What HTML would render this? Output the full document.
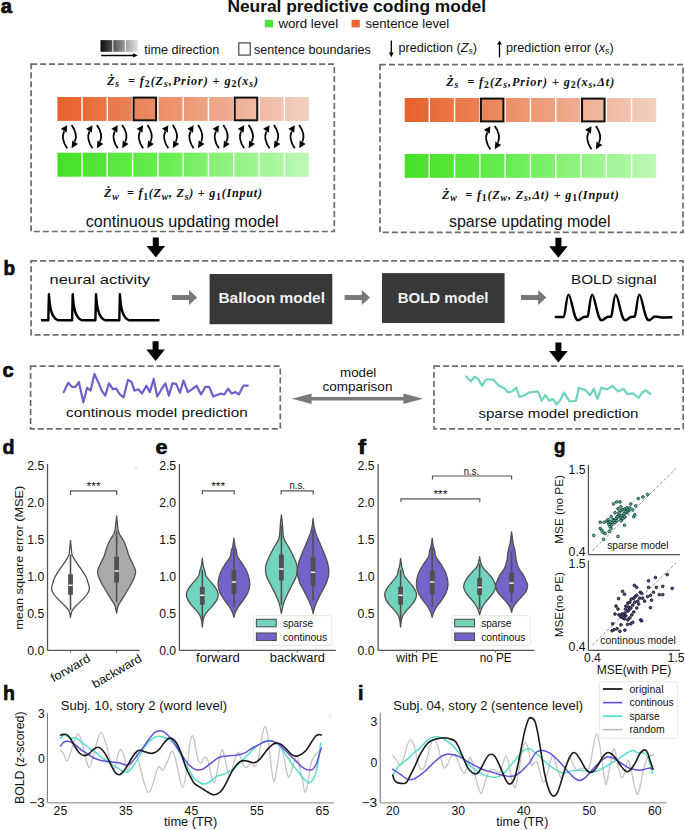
<!DOCTYPE html>
<html><head><meta charset="utf-8"><style>
html,body{margin:0;padding:0;background:#fff;}
svg{display:block;}
text{font-family:"Liberation Sans", sans-serif;}
</style></head><body>
<svg width="685" height="830" viewBox="0 0 685 830">
<rect width="685" height="830" fill="#ffffff"/>
<text x="0.80" y="12.90" font-size="21" fill="#111" font-weight="bold" textLength="11.20" lengthAdjust="spacingAndGlyphs" stroke="#000" stroke-width="0.7">a</text>
<text x="227.40" y="12.40" font-size="16.4" fill="#111" font-weight="bold" textLength="258.60" lengthAdjust="spacingAndGlyphs" >Neural predictive coding model</text>
<rect x="264.80" y="19.80" width="8.20" height="7.60" fill="#4fe43a" />
<text x="278.40" y="27.50" font-size="13" fill="#111" textLength="59.80" lengthAdjust="spacingAndGlyphs" >word level</text>
<rect x="351.60" y="19.80" width="8.20" height="7.60" fill="#e8652f" />
<text x="365.40" y="27.50" font-size="13" fill="#111" textLength="83.80" lengthAdjust="spacingAndGlyphs" >sentence level</text>
<defs><linearGradient id="tg" x1="0" x2="1" y1="0" y2="0"><stop offset="0" stop-color="#0a0a0a"/><stop offset="1" stop-color="#e6e6e6"/></linearGradient></defs>
<rect x="100.50" y="40.10" width="37.60" height="11.70" fill="url(#tg)" />
<rect x="112.30" y="39.50" width="1.00" height="13.00" fill="#fff" />
<rect x="124.80" y="39.50" width="1.00" height="13.00" fill="#fff" />
<line x1="101.20" y1="55.40" x2="133.50" y2="55.40" stroke="#000" stroke-width="1.5" />
<polygon points="133.00,53.20 137.80,55.40 133.00,57.60" fill="#000"/>
<text x="144.20" y="53.60" font-size="13" fill="#111" textLength="75.00" lengthAdjust="spacingAndGlyphs" >time direction</text>
<rect x="238.80" y="42.90" width="11.40" height="12.20" fill="#fff" stroke="#333" stroke-width="1.1" />
<text x="254.00" y="53.60" font-size="13" fill="#111" textLength="116.70" lengthAdjust="spacingAndGlyphs" >sentence boundaries</text>
<line x1="391.30" y1="40.40" x2="391.30" y2="53.50" stroke="#000" stroke-width="1.3" />
<polygon points="388.90,52.60 393.70,52.60 391.30,57.20" fill="#000"/>
<text x="398.50" y="52.00" font-size="13" fill="#111" textLength="78.50" lengthAdjust="spacingAndGlyphs" >prediction (<tspan font-style="italic">Z</tspan><tspan font-size="9" font-style="italic" dy="2">s</tspan><tspan dy="-2">)</tspan></text>
<line x1="499.50" y1="44.00" x2="499.50" y2="57.30" stroke="#000" stroke-width="1.3" />
<polygon points="497.10,44.60 501.90,44.60 499.50,40.50" fill="#000"/>
<text x="506.00" y="52.00" font-size="13" fill="#111" textLength="107.70" lengthAdjust="spacingAndGlyphs" >prediction error (<tspan font-style="italic">x</tspan><tspan font-size="9" font-style="italic" dy="2">s</tspan><tspan dy="-2">)</tspan></text>
<rect x="31.10" y="64.20" width="303.20" height="167.30" fill="none" stroke="#6f6b6b" stroke-width="1.7" stroke-dasharray="6 3"/>
<rect x="380.00" y="64.60" width="303.00" height="167.80" fill="none" stroke="#6f6b6b" stroke-width="1.7" stroke-dasharray="6 3"/>
<defs><linearGradient id="o1" x1="0" x2="1" y1="0" y2="0"><stop offset="0" stop-color="#e8602a"/><stop offset="1" stop-color="#f2d0c0"/></linearGradient></defs>
<rect x="57.40" y="97.00" width="251.50" height="23.90" fill="url(#o1)" />
<rect x="81.29" y="96.50" width="1.40" height="24.90" fill="#fff" />
<rect x="106.58" y="96.50" width="1.40" height="24.90" fill="#fff" />
<rect x="131.87" y="96.50" width="1.40" height="24.90" fill="#fff" />
<rect x="157.16" y="96.50" width="1.40" height="24.90" fill="#fff" />
<rect x="182.45" y="96.50" width="1.40" height="24.90" fill="#fff" />
<rect x="207.74" y="96.50" width="1.40" height="24.90" fill="#fff" />
<rect x="233.03" y="96.50" width="1.40" height="24.90" fill="#fff" />
<rect x="258.32" y="96.50" width="1.40" height="24.90" fill="#fff" />
<rect x="283.61" y="96.50" width="1.40" height="24.90" fill="#fff" />
<rect x="133.57" y="97.60" width="22.49" height="22.70" fill="none" stroke="#111" stroke-width="2" />
<rect x="234.73" y="97.60" width="22.49" height="22.70" fill="none" stroke="#111" stroke-width="2" />
<defs><linearGradient id="g1" x1="0" x2="1" y1="0" y2="0"><stop offset="0" stop-color="#44e126"/><stop offset="0.45" stop-color="#6bee55"/><stop offset="1" stop-color="#bff8b8"/></linearGradient></defs>
<rect x="57.40" y="152.70" width="251.50" height="24.00" fill="url(#g1)" />
<rect x="81.29" y="152.20" width="1.40" height="25.00" fill="#fff" />
<rect x="106.58" y="152.20" width="1.40" height="25.00" fill="#fff" />
<rect x="131.87" y="152.20" width="1.40" height="25.00" fill="#fff" />
<rect x="157.16" y="152.20" width="1.40" height="25.00" fill="#fff" />
<rect x="182.45" y="152.20" width="1.40" height="25.00" fill="#fff" />
<rect x="207.74" y="152.20" width="1.40" height="25.00" fill="#fff" />
<rect x="233.03" y="152.20" width="1.40" height="25.00" fill="#fff" />
<rect x="258.32" y="152.20" width="1.40" height="25.00" fill="#fff" />
<rect x="283.61" y="152.20" width="1.40" height="25.00" fill="#fff" />
<defs><linearGradient id="o2" x1="0" x2="1" y1="0" y2="0"><stop offset="0" stop-color="#e8602a"/><stop offset="1" stop-color="#f2d0c0"/></linearGradient></defs>
<rect x="404.70" y="98.00" width="251.50" height="24.00" fill="url(#o2)" />
<rect x="428.59" y="97.50" width="1.40" height="25.00" fill="#fff" />
<rect x="453.88" y="97.50" width="1.40" height="25.00" fill="#fff" />
<rect x="479.17" y="97.50" width="1.40" height="25.00" fill="#fff" />
<rect x="504.46" y="97.50" width="1.40" height="25.00" fill="#fff" />
<rect x="529.75" y="97.50" width="1.40" height="25.00" fill="#fff" />
<rect x="555.04" y="97.50" width="1.40" height="25.00" fill="#fff" />
<rect x="580.33" y="97.50" width="1.40" height="25.00" fill="#fff" />
<rect x="605.62" y="97.50" width="1.40" height="25.00" fill="#fff" />
<rect x="630.91" y="97.50" width="1.40" height="25.00" fill="#fff" />
<rect x="480.87" y="98.60" width="22.49" height="22.80" fill="none" stroke="#111" stroke-width="2" />
<rect x="582.03" y="98.60" width="22.49" height="22.80" fill="none" stroke="#111" stroke-width="2" />
<defs><linearGradient id="g2" x1="0" x2="1" y1="0" y2="0"><stop offset="0" stop-color="#44e126"/><stop offset="0.45" stop-color="#6bee55"/><stop offset="1" stop-color="#bff8b8"/></linearGradient></defs>
<rect x="404.70" y="154.00" width="251.50" height="23.80" fill="url(#g2)" />
<rect x="428.59" y="153.50" width="1.40" height="24.80" fill="#fff" />
<rect x="453.88" y="153.50" width="1.40" height="24.80" fill="#fff" />
<rect x="479.17" y="153.50" width="1.40" height="24.80" fill="#fff" />
<rect x="504.46" y="153.50" width="1.40" height="24.80" fill="#fff" />
<rect x="529.75" y="153.50" width="1.40" height="24.80" fill="#fff" />
<rect x="555.04" y="153.50" width="1.40" height="24.80" fill="#fff" />
<rect x="580.33" y="153.50" width="1.40" height="24.80" fill="#fff" />
<rect x="605.62" y="153.50" width="1.40" height="24.80" fill="#fff" />
<rect x="630.91" y="153.50" width="1.40" height="24.80" fill="#fff" />
<path d="M67.20,148.30 Q60.60,138.90 64.10,131.50" fill="none" stroke="#000" stroke-width="1.8"/>
<polygon points="67.20,125.30 60.80,128.80 66.60,132.70" fill="#000"/>
<path d="M71.60,124.90 Q78.20,134.30 74.70,141.70" fill="none" stroke="#000" stroke-width="1.8"/>
<polygon points="71.60,148.30 72.20,140.50 78.00,144.00" fill="#000"/>
<path d="M92.49,148.30 Q85.89,138.90 89.39,131.50" fill="none" stroke="#000" stroke-width="1.8"/>
<polygon points="92.49,125.30 86.09,128.80 91.89,132.70" fill="#000"/>
<path d="M96.89,124.90 Q103.49,134.30 99.99,141.70" fill="none" stroke="#000" stroke-width="1.8"/>
<polygon points="96.89,148.30 97.49,140.50 103.29,144.00" fill="#000"/>
<path d="M117.78,148.30 Q111.18,138.90 114.68,131.50" fill="none" stroke="#000" stroke-width="1.8"/>
<polygon points="117.78,125.30 111.38,128.80 117.18,132.70" fill="#000"/>
<path d="M122.18,124.90 Q128.78,134.30 125.28,141.70" fill="none" stroke="#000" stroke-width="1.8"/>
<polygon points="122.18,148.30 122.78,140.50 128.58,144.00" fill="#000"/>
<path d="M143.07,148.30 Q136.47,138.90 139.97,131.50" fill="none" stroke="#000" stroke-width="1.8"/>
<polygon points="143.07,125.30 136.67,128.80 142.47,132.70" fill="#000"/>
<path d="M147.47,124.90 Q154.07,134.30 150.57,141.70" fill="none" stroke="#000" stroke-width="1.8"/>
<polygon points="147.47,148.30 148.07,140.50 153.87,144.00" fill="#000"/>
<path d="M168.36,148.30 Q161.76,138.90 165.26,131.50" fill="none" stroke="#000" stroke-width="1.8"/>
<polygon points="168.36,125.30 161.96,128.80 167.76,132.70" fill="#000"/>
<path d="M172.76,124.90 Q179.36,134.30 175.86,141.70" fill="none" stroke="#000" stroke-width="1.8"/>
<polygon points="172.76,148.30 173.36,140.50 179.16,144.00" fill="#000"/>
<path d="M193.65,148.30 Q187.05,138.90 190.55,131.50" fill="none" stroke="#000" stroke-width="1.8"/>
<polygon points="193.65,125.30 187.25,128.80 193.05,132.70" fill="#000"/>
<path d="M198.05,124.90 Q204.65,134.30 201.15,141.70" fill="none" stroke="#000" stroke-width="1.8"/>
<polygon points="198.05,148.30 198.65,140.50 204.45,144.00" fill="#000"/>
<path d="M218.94,148.30 Q212.34,138.90 215.84,131.50" fill="none" stroke="#000" stroke-width="1.8"/>
<polygon points="218.94,125.30 212.54,128.80 218.34,132.70" fill="#000"/>
<path d="M223.34,124.90 Q229.94,134.30 226.44,141.70" fill="none" stroke="#000" stroke-width="1.8"/>
<polygon points="223.34,148.30 223.94,140.50 229.74,144.00" fill="#000"/>
<path d="M244.23,148.30 Q237.63,138.90 241.13,131.50" fill="none" stroke="#000" stroke-width="1.8"/>
<polygon points="244.23,125.30 237.83,128.80 243.63,132.70" fill="#000"/>
<path d="M248.63,124.90 Q255.23,134.30 251.73,141.70" fill="none" stroke="#000" stroke-width="1.8"/>
<polygon points="248.63,148.30 249.23,140.50 255.03,144.00" fill="#000"/>
<path d="M269.52,148.30 Q262.92,138.90 266.42,131.50" fill="none" stroke="#000" stroke-width="1.8"/>
<polygon points="269.52,125.30 263.12,128.80 268.92,132.70" fill="#000"/>
<path d="M273.92,124.90 Q280.52,134.30 277.02,141.70" fill="none" stroke="#000" stroke-width="1.8"/>
<polygon points="273.92,148.30 274.52,140.50 280.32,144.00" fill="#000"/>
<path d="M294.81,148.30 Q288.21,138.90 291.71,131.50" fill="none" stroke="#000" stroke-width="1.8"/>
<polygon points="294.81,125.30 288.41,128.80 294.21,132.70" fill="#000"/>
<path d="M299.21,124.90 Q305.81,134.30 302.31,141.70" fill="none" stroke="#000" stroke-width="1.8"/>
<polygon points="299.21,148.30 299.81,140.50 305.61,144.00" fill="#000"/>
<path d="M490.37,149.30 Q483.77,139.90 487.27,132.50" fill="none" stroke="#000" stroke-width="1.8"/>
<polygon points="490.37,126.30 483.97,129.80 489.77,133.70" fill="#000"/>
<path d="M494.77,125.90 Q501.37,135.30 497.87,142.70" fill="none" stroke="#000" stroke-width="1.8"/>
<polygon points="494.77,149.30 495.37,141.50 501.17,145.00" fill="#000"/>
<path d="M591.53,149.30 Q584.93,139.90 588.43,132.50" fill="none" stroke="#000" stroke-width="1.8"/>
<polygon points="591.53,126.30 585.13,129.80 590.93,133.70" fill="#000"/>
<path d="M595.93,125.90 Q602.53,135.30 599.03,142.70" fill="none" stroke="#000" stroke-width="1.8"/>
<polygon points="595.93,149.30 596.53,141.50 602.33,145.00" fill="#000"/>
<text x="107.00" y="84.90" font-size="12.2" fill="#111" font-weight="bold" font-style="italic" style='font-family:"Liberation Serif", serif' textLength='151.00' lengthAdjust='spacing'><tspan>Ż</tspan><tspan font-size="9.8" dy="2.4">s</tspan><tspan dy="-2.4">  = </tspan><tspan>f</tspan><tspan font-size="9.8" font-style="normal" dy="2.4">2</tspan><tspan dy="-2.4">(Z</tspan><tspan font-size="9.8" dy="2.4">s</tspan><tspan dy="-2.4">,Prior) + </tspan><tspan>g</tspan><tspan font-size="9.8" font-style="normal" dy="2.4">2</tspan><tspan dy="-2.4">(x</tspan><tspan font-size="9.8" dy="2.4">s</tspan><tspan dy="-2.4">)</tspan></text>
<text x="446.20" y="86.00" font-size="12.2" fill="#111" font-weight="bold" font-style="italic" style='font-family:"Liberation Serif", serif' textLength='168.00' lengthAdjust='spacing'><tspan>Ż</tspan><tspan font-size="9.8" dy="2.4">s</tspan><tspan dy="-2.4">  = </tspan><tspan>f</tspan><tspan font-size="9.8" font-style="normal" dy="2.4">2</tspan><tspan dy="-2.4">(Z</tspan><tspan font-size="9.8" dy="2.4">s</tspan><tspan dy="-2.4">,Prior) + </tspan><tspan>g</tspan><tspan font-size="9.8" font-style="normal" dy="2.4">2</tspan><tspan dy="-2.4">(x</tspan><tspan font-size="9.8" dy="2.4">s</tspan><tspan dy="-2.4">,Δt)</tspan></text>
<text x="104.00" y="197.30" font-size="12.2" fill="#111" font-weight="bold" font-style="italic" style='font-family:"Liberation Serif", serif' textLength='158.00' lengthAdjust='spacing'><tspan>Ż</tspan><tspan font-size="9.8" dy="2.4">w</tspan><tspan dy="-2.4">  = </tspan><tspan>f</tspan><tspan font-size="9.8" font-style="normal" dy="2.4">1</tspan><tspan dy="-2.4">(Z</tspan><tspan font-size="9.8" dy="2.4">w</tspan><tspan dy="-2.4">, Z</tspan><tspan font-size="9.8" dy="2.4">s</tspan><tspan dy="-2.4">) + </tspan><tspan>g</tspan><tspan font-size="9.8" font-style="normal" dy="2.4">1</tspan><tspan dy="-2.4">(Input)</tspan></text>
<text x="442.00" y="198.90" font-size="12.2" fill="#111" font-weight="bold" font-style="italic" style='font-family:"Liberation Serif", serif' textLength='176.70' lengthAdjust='spacing'><tspan>Ż</tspan><tspan font-size="9.8" dy="2.4">w</tspan><tspan dy="-2.4">  = </tspan><tspan>f</tspan><tspan font-size="9.8" font-style="normal" dy="2.4">1</tspan><tspan dy="-2.4">(Z</tspan><tspan font-size="9.8" dy="2.4">w</tspan><tspan dy="-2.4">, Z</tspan><tspan font-size="9.8" dy="2.4">s</tspan><tspan dy="-2.4">,Δt) + </tspan><tspan>g</tspan><tspan font-size="9.8" font-style="normal" dy="2.4">1</tspan><tspan dy="-2.4">(Input)</tspan></text>
<text x="85.80" y="226.60" font-size="16" fill="#111" textLength="192.70" lengthAdjust="spacingAndGlyphs" >continuous updating model</text>
<text x="449.00" y="226.70" font-size="16" fill="#111" textLength="161.50" lengthAdjust="spacingAndGlyphs" >sparse updating model</text>
<polygon points="152.80,237.50 158.80,237.50 158.80,245.90 165.10,245.90 155.80,257.40 146.50,245.90 152.80,245.90" fill="#000"/>
<polygon points="555.40,237.80 561.40,237.80 561.40,246.20 567.70,246.20 558.40,257.70 549.10,246.20 555.40,246.20" fill="#000"/>
<text x="3.60" y="275.30" font-size="21" fill="#111" font-weight="bold" textLength="11.60" lengthAdjust="spacingAndGlyphs" stroke="#000" stroke-width="0.7">b</text>
<rect x="31.10" y="260.90" width="651.80" height="73.90" fill="none" stroke="#6f6b6b" stroke-width="1.7" stroke-dasharray="6 3"/>
<text x="49.60" y="284.20" font-size="13.5" fill="#111" textLength="100.40" lengthAdjust="spacingAndGlyphs" >neural activity</text>
<path d="M41,320.2 L48.3,320.2 L48.9,294.2 C49.7,306 50.9,317.5 57.9,320.2 L72.1,320.2 L72.7,294.2 C73.5,306 74.7,317.5 81.7,320.2 L95.4,320.2 L96.0,294.2 C96.8,306 98.0,317.5 105.0,320.2 L119.3,320.2 L119.9,294.2 C120.7,306 121.9,317.5 128.9,320.2 L159.5,320.2" fill="none" stroke="#000" stroke-width="2.4" stroke-linejoin="round"/>
<polygon points="172.00,294.90 189.00,294.90 189.00,289.90 197.20,297.40 189.00,304.90 189.00,299.90 172.00,299.90" fill="#787878"/>
<rect x="209.60" y="274.00" width="122.70" height="50.20" fill="#383838" />
<text x="218.40" y="303.20" font-size="15" fill="#f2f2f2" font-weight="bold" textLength="106.60" lengthAdjust="spacingAndGlyphs" >Balloon model</text>
<polygon points="344.60,295.10 361.80,295.10 361.80,290.10 370.00,297.60 361.80,305.10 361.80,300.10 344.60,300.10" fill="#787878"/>
<rect x="382.00" y="273.10" width="122.60" height="49.90" fill="#383838" />
<text x="397.70" y="303.20" font-size="15" fill="#f2f2f2" font-weight="bold" textLength="90.80" lengthAdjust="spacingAndGlyphs" >BOLD model</text>
<polygon points="521.00,294.90 538.20,294.90 538.20,289.90 546.40,297.40 538.20,304.90 538.20,299.90 521.00,299.90" fill="#787878"/>
<text x="571.00" y="284.20" font-size="13.5" fill="#111" textLength="85.60" lengthAdjust="spacingAndGlyphs" >BOLD signal</text>
<path d="M554.8,317 L563.6,317 C565.4,317 566.3,294.6 568.6,294.6 C571.2,294.6 573.6,320.3 578.1,320.3 C580.6,320.3 581.6,316.8 585.1,316.8 L587.2,316.8 C589.0,317 589.9,294.6 592.2,294.6 C594.8,294.6 597.2,320.3 601.7,320.3 C604.2,320.3 605.2,316.8 608.7,316.8 L610.8,316.8 C612.6,317 613.5,294.6 615.8,294.6 C618.4,294.6 620.8,320.3 625.3,320.3 C627.8,320.3 628.8,316.8 632.3,316.8 L634.4,316.8 C636.2,317 637.1,294.6 639.4,294.6 C642.0,294.6 644.4,320.3 648.9,320.3 C651.4,320.3 652.4,316.3 655.4,316.5 C658.4,316.6 660.4,317.6 663.9,317.5 L672.4,317.2" fill="none" stroke="#000" stroke-width="2.4" stroke-linejoin="round"/>
<polygon points="152.60,341.20 158.60,341.20 158.60,349.50 164.90,349.50 155.60,361.00 146.30,349.50 152.60,349.50" fill="#000"/>
<polygon points="555.40,342.50 561.40,342.50 561.40,351.10 567.70,351.10 558.40,362.60 549.10,351.10 555.40,351.10" fill="#000"/>
<text x="2.50" y="376.60" font-size="21" fill="#111" font-weight="bold" textLength="11.20" lengthAdjust="spacingAndGlyphs" stroke="#000" stroke-width="0.7">c</text>
<rect x="30.60" y="366.10" width="249.70" height="62.80" fill="none" stroke="#6f6b6b" stroke-width="1.7" stroke-dasharray="6 3"/>
<rect x="434.00" y="366.10" width="249.20" height="62.70" fill="none" stroke="#6f6b6b" stroke-width="1.7" stroke-dasharray="6 3"/>
<polyline points="63.76,392.12 68.14,382.77 71.93,386.86 75.44,386.86 78.94,382.19 83.32,402.34 87.12,387.74 90.62,390.66 94.42,374.01 98.80,383.36 101.72,390.66 105.22,395.62 109.01,383.36 112.81,389.20 116.31,388.61 119.82,394.45 123.61,397.37 127.99,379.85 131.50,381.90 134.42,390.66 138.21,389.20 142.01,393.58 146.39,385.69 149.89,392.12 153.69,378.98 157.19,396.50 161.57,389.20 165.36,383.36 168.87,395.62 172.37,383.36 176.17,383.94 179.96,392.70 183.47,380.44 187.85,392.12 192.23,389.20 196.61,385.69 200.99,394.45 205.36,386.86 209.16,386.86 213.25,396.50 217.04,395.04 220.84,393.58 224.34,394.45 228.14,388.61 231.64,393.58 235.44,392.12 238.94,394.45 243.32,385.69 247.70,385.69" fill="none" stroke="#6e5fcc" stroke-width="2.2" stroke-linejoin="round" stroke-linecap="round" />
<text x="66.10" y="417.00" font-size="13.5" fill="#111" textLength="181.60" lengthAdjust="spacingAndGlyphs" >continous model prediction</text>
<polyline points="466.11,376.54 470.95,381.38 474.68,376.54 478.40,379.14 482.12,385.85 485.85,379.52 493.29,379.52 498.88,385.85 503.72,387.71 508.18,392.55 511.91,391.43 516.37,387.71 519.35,397.01 524.94,395.15 528.66,392.55 537.97,391.43 541.69,400.74 545.41,395.15 549.14,400.74 552.86,398.88 556.58,404.46 560.31,399.99 564.03,392.55 569.61,401.48 575.94,400.74 578.92,387.71 585.62,390.31 590.09,395.15 593.81,388.82 597.54,398.88 601.26,387.71 606.84,389.57 612.43,385.85 618.01,391.43 623.60,388.82 627.32,394.04 632.90,393.29 638.49,397.76 642.21,392.55 645.93,390.31 650.40,394.04" fill="none" stroke="#6fd3c1" stroke-width="2.2" stroke-linejoin="round" stroke-linecap="round" />
<text x="478.40" y="418.20" font-size="13.5" fill="#111" textLength="160.10" lengthAdjust="spacingAndGlyphs" >sparse model prediction</text>
<text x="358.20" y="377.20" font-size="13.5" fill="#111" text-anchor="middle" textLength="36.30" lengthAdjust="spacingAndGlyphs" >model</text>
<text x="357.50" y="391.20" font-size="13.5" fill="#111" text-anchor="middle" textLength="69.80" lengthAdjust="spacingAndGlyphs" >comparison</text>
<polygon points="292.00,398.80 311.60,393.50 311.60,397.00 403.40,397.00 403.40,393.50 423.00,398.80 403.40,404.10 403.40,400.60 311.60,400.60 311.60,404.10" fill="#7a7a7a"/>
<text x="2.40" y="454.20" font-size="20" fill="#111" font-weight="bold" textLength="12.00" lengthAdjust="spacingAndGlyphs" stroke="#000" stroke-width="0.6">d</text>
<line x1="47.50" y1="464.00" x2="47.50" y2="650.40" stroke="#555" stroke-width="1.3" />
<line x1="47.50" y1="650.40" x2="139.80" y2="650.40" stroke="#555" stroke-width="1.3" />
<text x="44.30" y="469.80" font-size="12.3" fill="#111" text-anchor="end" textLength="17.02" lengthAdjust="spacingAndGlyphs" >2.5</text>
<text x="44.30" y="506.78" font-size="12.3" fill="#111" text-anchor="end" textLength="17.02" lengthAdjust="spacingAndGlyphs" >2.0</text>
<text x="44.30" y="543.76" font-size="12.3" fill="#111" text-anchor="end" textLength="17.02" lengthAdjust="spacingAndGlyphs" >1.5</text>
<text x="44.30" y="580.74" font-size="12.3" fill="#111" text-anchor="end" textLength="17.02" lengthAdjust="spacingAndGlyphs" >1.0</text>
<text x="44.30" y="617.72" font-size="12.3" fill="#111" text-anchor="end" textLength="17.02" lengthAdjust="spacingAndGlyphs" >0.5</text>
<text x="44.30" y="654.70" font-size="12.3" fill="#111" text-anchor="end" textLength="17.02" lengthAdjust="spacingAndGlyphs" >0.0</text>
<text x="23.00" y="629.70" font-size="11.7" fill="#111" textLength="143.90" lengthAdjust="spacingAndGlyphs" transform="rotate(-90 23.00 629.70)" >mean square error (MSE)</text>
<path d="M70.5,495 L70.5,490.9 L116.7,490.9 L116.7,495" fill="none" stroke="#555" stroke-width="1.2"/>
<text x="93.60" y="489.80" font-size="10.5" fill="#111" text-anchor="middle" textLength="14.00" lengthAdjust="spacingAndGlyphs" >***</text>
<circle cx="135.8" cy="468.3" r="1.3" fill="none" stroke="#ddd" stroke-width="0.8"/>
<path d="M70.50,540.30 C70.63,541.72 71.05,546.42 71.30,548.80 C71.55,551.18 71.65,553.13 72.00,554.60 C72.35,556.07 72.55,556.13 73.40,557.60 C74.25,559.07 75.63,561.22 77.10,563.40 C78.57,565.58 80.63,568.27 82.20,570.70 C83.77,573.13 85.47,575.82 86.50,578.00 C87.53,580.18 87.92,581.98 88.40,583.80 C88.88,585.62 89.58,587.20 89.40,588.90 C89.22,590.60 88.50,592.17 87.30,594.00 C86.10,595.83 84.03,597.95 82.20,599.90 C80.37,601.85 77.93,604.00 76.30,605.70 C74.67,607.40 73.27,608.75 72.40,610.10 C71.53,611.45 71.42,612.58 71.10,613.80 C70.78,615.02 70.60,616.80 70.50,617.40 L70.50,617.40 C70.40,616.80 70.22,615.02 69.90,613.80 C69.58,612.58 69.47,611.45 68.60,610.10 C67.73,608.75 66.33,607.40 64.70,605.70 C63.07,604.00 60.63,601.85 58.80,599.90 C56.97,597.95 54.90,595.83 53.70,594.00 C52.50,592.17 51.78,590.60 51.60,588.90 C51.42,587.20 52.12,585.62 52.60,583.80 C53.08,581.98 53.47,580.18 54.50,578.00 C55.53,575.82 57.23,573.13 58.80,570.70 C60.37,568.27 62.43,565.58 63.90,563.40 C65.37,561.22 66.75,559.07 67.60,557.60 C68.45,556.13 68.65,556.07 69.00,554.60 C69.35,553.13 69.45,551.18 69.70,548.80 C69.95,546.42 70.37,541.72 70.50,540.30 Z" fill="#ffffff" stroke="#505050" stroke-width="1.3" stroke-linejoin="round"/>
<line x1="70.50" y1="554.60" x2="70.50" y2="610.10" stroke="#505050" stroke-width="1.6" />
<rect x="68.10" y="574.30" width="4.80" height="20.50" fill="#505050" />
<rect x="68.30" y="584.55" width="4.40" height="1.50" fill="#f4f4f4" />
<path d="M116.60,516.00 C116.73,517.33 117.15,521.70 117.40,524.00 C117.65,526.30 117.73,528.10 118.10,529.80 C118.47,531.50 118.63,532.25 119.60,534.20 C120.57,536.15 122.70,539.07 123.90,541.50 C125.10,543.93 125.95,546.37 126.80,548.80 C127.65,551.23 128.03,553.67 129.00,556.10 C129.97,558.53 131.50,560.85 132.60,563.40 C133.70,565.95 135.35,568.97 135.60,571.40 C135.85,573.83 134.95,575.68 134.10,578.00 C133.25,580.32 131.83,582.87 130.50,585.30 C129.17,587.73 127.57,590.17 126.10,592.60 C124.63,595.03 123.02,597.72 121.70,599.90 C120.38,602.08 119.05,603.52 118.20,605.70 C117.35,607.88 116.87,611.78 116.60,613.00 L116.60,613.00 C116.33,611.78 115.85,607.88 115.00,605.70 C114.15,603.52 112.82,602.08 111.50,599.90 C110.18,597.72 108.57,595.03 107.10,592.60 C105.63,590.17 104.03,587.73 102.70,585.30 C101.37,582.87 99.95,580.32 99.10,578.00 C98.25,575.68 97.35,573.83 97.60,571.40 C97.85,568.97 99.50,565.95 100.60,563.40 C101.70,560.85 103.23,558.53 104.20,556.10 C105.17,553.67 105.55,551.23 106.40,548.80 C107.25,546.37 108.10,543.93 109.30,541.50 C110.50,539.07 112.63,536.15 113.60,534.20 C114.57,532.25 114.73,531.50 115.10,529.80 C115.47,528.10 115.55,526.30 115.80,524.00 C116.05,521.70 116.47,517.33 116.60,516.00 Z" fill="#a9a9a9" stroke="#505050" stroke-width="1.3" stroke-linejoin="round"/>
<line x1="116.60" y1="531.30" x2="116.60" y2="602.10" stroke="#505050" stroke-width="1.6" />
<rect x="114.20" y="556.80" width="4.80" height="25.60" fill="#505050" />
<rect x="114.40" y="570.25" width="4.40" height="1.50" fill="#f4f4f4" />
<line x1="70.60" y1="650.40" x2="70.60" y2="652.50" stroke="#555" stroke-width="1" />
<line x1="116.60" y1="650.40" x2="116.60" y2="652.50" stroke="#555" stroke-width="1" />
<text x="72.40" y="671.60" font-size="12" fill="#111" text-anchor="middle" textLength="43.71" lengthAdjust="spacingAndGlyphs" transform="rotate(-30 72.40 671.60)" >forward</text>
<text x="118.80" y="674.60" font-size="12" fill="#111" text-anchor="middle" textLength="55.13" lengthAdjust="spacingAndGlyphs" transform="rotate(-30 118.80 674.60)" >backward</text>
<text x="155.60" y="454.20" font-size="20" fill="#111" font-weight="bold" textLength="12.00" lengthAdjust="spacingAndGlyphs" stroke="#000" stroke-width="0.6">e</text>
<line x1="179.40" y1="464.00" x2="179.40" y2="650.40" stroke="#555" stroke-width="1.3" />
<line x1="179.40" y1="650.40" x2="335.80" y2="650.40" stroke="#555" stroke-width="1.3" />
<text x="176.20" y="469.80" font-size="12.3" fill="#111" text-anchor="end" textLength="17.02" lengthAdjust="spacingAndGlyphs" >2.5</text>
<text x="176.20" y="506.78" font-size="12.3" fill="#111" text-anchor="end" textLength="17.02" lengthAdjust="spacingAndGlyphs" >2.0</text>
<text x="176.20" y="543.76" font-size="12.3" fill="#111" text-anchor="end" textLength="17.02" lengthAdjust="spacingAndGlyphs" >1.5</text>
<text x="176.20" y="580.74" font-size="12.3" fill="#111" text-anchor="end" textLength="17.02" lengthAdjust="spacingAndGlyphs" >1.0</text>
<text x="176.20" y="617.72" font-size="12.3" fill="#111" text-anchor="end" textLength="17.02" lengthAdjust="spacingAndGlyphs" >0.5</text>
<text x="176.20" y="654.70" font-size="12.3" fill="#111" text-anchor="end" textLength="17.02" lengthAdjust="spacingAndGlyphs" >0.0</text>
<path d="M202.4,494.6 L202.4,490.9 L234.2,490.9 L234.2,494.6" fill="none" stroke="#555" stroke-width="1.2"/>
<text x="218.20" y="489.80" font-size="10.5" fill="#111" text-anchor="middle" textLength="14.00" lengthAdjust="spacingAndGlyphs" >***</text>
<path d="M281.2,494.6 L281.2,490.9 L313.2,490.9 L313.2,494.6" fill="none" stroke="#555" stroke-width="1.2"/>
<text x="297.20" y="488.80" font-size="10.5" fill="#111" text-anchor="middle" textLength="15.50" lengthAdjust="spacingAndGlyphs" >n.s.</text>
<path d="M202.30,558.30 C202.47,559.60 202.88,563.98 203.30,566.10 C203.72,568.22 204.37,569.38 204.80,571.00 C205.23,572.62 204.92,574.00 205.90,575.80 C206.88,577.60 209.08,579.80 210.70,581.80 C212.32,583.80 214.35,585.78 215.60,587.80 C216.85,589.82 218.00,591.88 218.20,593.90 C218.40,595.92 217.75,597.90 216.80,599.90 C215.85,601.90 214.12,603.90 212.50,605.90 C210.88,607.90 208.50,610.10 207.10,611.90 C205.70,613.70 204.80,615.08 204.10,616.70 C203.40,618.32 203.20,619.88 202.90,621.60 C202.60,623.32 202.40,626.10 202.30,627.00 L202.30,627.00 C202.20,626.10 202.00,623.32 201.70,621.60 C201.40,619.88 201.20,618.32 200.50,616.70 C199.80,615.08 198.90,613.70 197.50,611.90 C196.10,610.10 193.72,607.90 192.10,605.90 C190.48,603.90 188.75,601.90 187.80,599.90 C186.85,597.90 186.20,595.92 186.40,593.90 C186.60,591.88 187.75,589.82 189.00,587.80 C190.25,585.78 192.28,583.80 193.90,581.80 C195.52,579.80 197.72,577.60 198.70,575.80 C199.68,574.00 199.37,572.62 199.80,571.00 C200.23,569.38 200.88,568.22 201.30,566.10 C201.72,563.98 202.13,559.60 202.30,558.30 Z" fill="#72d4bf" stroke="#505050" stroke-width="1.3" stroke-linejoin="round"/>
<line x1="202.30" y1="569.80" x2="202.30" y2="620.40" stroke="#505050" stroke-width="1.6" />
<rect x="199.90" y="586.90" width="4.80" height="17.80" fill="#505050" />
<rect x="200.10" y="594.55" width="4.40" height="1.50" fill="#f4f4f4" />
<path d="M233.90,538.20 C234.07,539.45 234.48,543.65 234.90,545.70 C235.32,547.75 235.97,548.70 236.40,550.50 C236.83,552.30 236.52,554.30 237.50,556.50 C238.48,558.70 240.78,561.28 242.30,563.70 C243.82,566.12 245.48,568.58 246.60,571.00 C247.72,573.42 248.48,575.80 249.00,578.20 C249.52,580.60 249.90,582.98 249.70,585.40 C249.50,587.82 248.83,590.28 247.80,592.70 C246.77,595.12 245.12,597.50 243.50,599.90 C241.88,602.30 239.50,604.90 238.10,607.10 C236.70,609.30 235.80,611.40 235.10,613.10 C234.40,614.80 234.10,616.60 233.90,617.30 L233.90,617.30 C233.70,616.60 233.40,614.80 232.70,613.10 C232.00,611.40 231.10,609.30 229.70,607.10 C228.30,604.90 225.92,602.30 224.30,599.90 C222.68,597.50 221.03,595.12 220.00,592.70 C218.97,590.28 218.30,587.82 218.10,585.40 C217.90,582.98 218.28,580.60 218.80,578.20 C219.32,575.80 220.08,573.42 221.20,571.00 C222.32,568.58 223.98,566.12 225.50,563.70 C227.02,561.28 229.32,558.70 230.30,556.50 C231.28,554.30 230.97,552.30 231.40,550.50 C231.83,548.70 232.48,547.75 232.90,545.70 C233.32,543.65 233.73,539.45 233.90,538.20 Z" fill="#7463c8" stroke="#505050" stroke-width="1.3" stroke-linejoin="round"/>
<line x1="233.90" y1="548.10" x2="233.90" y2="607.10" stroke="#505050" stroke-width="1.6" />
<rect x="231.50" y="570.00" width="4.80" height="23.90" fill="#505050" />
<rect x="231.70" y="581.25" width="4.40" height="1.50" fill="#f4f4f4" />
<path d="M281.40,514.80 C281.57,516.30 282.12,520.62 282.40,523.80 C282.68,526.98 282.78,531.25 283.10,533.90 C283.42,536.55 283.38,537.52 284.30,539.70 C285.22,541.88 287.15,544.35 288.60,547.00 C290.05,549.65 291.67,552.72 293.00,555.60 C294.33,558.48 295.88,561.88 296.60,564.30 C297.32,566.72 297.42,567.93 297.30,570.10 C297.18,572.27 296.87,574.65 295.90,577.30 C294.93,579.95 292.95,583.10 291.50,586.00 C290.05,588.90 288.52,591.80 287.20,594.70 C285.88,597.60 284.57,600.27 283.60,603.40 C282.63,606.53 281.77,611.82 281.40,613.50 L281.40,613.50 C281.03,611.82 280.17,606.53 279.20,603.40 C278.23,600.27 276.92,597.60 275.60,594.70 C274.28,591.80 272.75,588.90 271.30,586.00 C269.85,583.10 267.87,579.95 266.90,577.30 C265.93,574.65 265.62,572.27 265.50,570.10 C265.38,567.93 265.48,566.72 266.20,564.30 C266.92,561.88 268.47,558.48 269.80,555.60 C271.13,552.72 272.75,549.65 274.20,547.00 C275.65,544.35 277.58,541.88 278.50,539.70 C279.42,537.52 279.38,536.55 279.70,533.90 C280.02,531.25 280.12,526.98 280.40,523.80 C280.68,520.62 281.23,516.30 281.40,514.80 Z" fill="#72d4bf" stroke="#505050" stroke-width="1.3" stroke-linejoin="round"/>
<line x1="281.40" y1="525.30" x2="281.40" y2="604.80" stroke="#505050" stroke-width="1.6" />
<rect x="279.00" y="554.50" width="4.80" height="26.00" fill="#505050" />
<rect x="279.20" y="568.25" width="4.40" height="1.50" fill="#f4f4f4" />
<path d="M313.10,518.30 C313.27,519.70 313.62,524.10 314.10,526.70 C314.58,529.30 315.08,531.25 316.00,533.90 C316.92,536.55 318.28,539.47 319.60,542.60 C320.92,545.73 322.57,549.32 323.90,552.70 C325.23,556.08 326.77,559.63 327.60,562.90 C328.43,566.17 329.03,569.17 328.90,572.30 C328.77,575.43 327.98,578.45 326.80,581.70 C325.62,584.95 323.37,588.67 321.80,591.80 C320.23,594.93 318.62,597.85 317.40,600.50 C316.18,603.15 315.22,605.53 314.50,607.70 C313.78,609.87 313.33,612.53 313.10,613.50 L313.10,613.50 C312.87,612.53 312.42,609.87 311.70,607.70 C310.98,605.53 310.02,603.15 308.80,600.50 C307.58,597.85 305.97,594.93 304.40,591.80 C302.83,588.67 300.58,584.95 299.40,581.70 C298.22,578.45 297.43,575.43 297.30,572.30 C297.17,569.17 297.77,566.17 298.60,562.90 C299.43,559.63 300.97,556.08 302.30,552.70 C303.63,549.32 305.28,545.73 306.60,542.60 C307.92,539.47 309.28,536.55 310.20,533.90 C311.12,531.25 311.62,529.30 312.10,526.70 C312.58,524.10 312.93,519.70 313.10,518.30 Z" fill="#7463c8" stroke="#505050" stroke-width="1.3" stroke-linejoin="round"/>
<line x1="313.10" y1="530.30" x2="313.10" y2="600.50" stroke="#505050" stroke-width="1.6" />
<rect x="310.70" y="557.40" width="4.80" height="28.30" fill="#505050" />
<rect x="310.90" y="571.55" width="4.40" height="1.50" fill="#f4f4f4" />
<line x1="218.10" y1="650.40" x2="218.10" y2="652.50" stroke="#555" stroke-width="1" />
<line x1="297.20" y1="650.40" x2="297.20" y2="652.50" stroke="#555" stroke-width="1" />
<text x="196.00" y="662.20" font-size="12" fill="#111" textLength="43.71" lengthAdjust="spacingAndGlyphs" >forward</text>
<text x="269.80" y="662.20" font-size="12" fill="#111" textLength="55.13" lengthAdjust="spacingAndGlyphs" >backward</text>
<rect x="253.60" y="615.60" width="78.2" height="29.8" rx="2" fill="#fff" fill-opacity="0.8" stroke="#e0e0e0" stroke-width="0.8"/>
<rect x="256.40" y="619.30" width="19.80" height="7.50" fill="#72d4bf" stroke="#505050" stroke-width="1.1" />
<rect x="256.40" y="633.00" width="19.80" height="7.50" fill="#7463c8" stroke="#505050" stroke-width="1.1" />
<text x="282.90" y="627.00" font-size="10" fill="#111" textLength="30.18" lengthAdjust="spacingAndGlyphs" >sparse</text>
<text x="282.90" y="640.50" font-size="10" fill="#111" textLength="44.28" lengthAdjust="spacingAndGlyphs" >continous</text>
<text x="357.90" y="454.20" font-size="20" fill="#111" font-weight="bold" textLength="8.00" lengthAdjust="spacingAndGlyphs" stroke="#000" stroke-width="0.6">f</text>
<line x1="378.10" y1="464.00" x2="378.10" y2="650.40" stroke="#555" stroke-width="1.3" />
<line x1="378.10" y1="650.40" x2="534.50" y2="650.40" stroke="#555" stroke-width="1.3" />
<text x="374.60" y="469.80" font-size="12.3" fill="#111" text-anchor="end" textLength="17.02" lengthAdjust="spacingAndGlyphs" >2.5</text>
<text x="374.60" y="506.78" font-size="12.3" fill="#111" text-anchor="end" textLength="17.02" lengthAdjust="spacingAndGlyphs" >2.0</text>
<text x="374.60" y="543.76" font-size="12.3" fill="#111" text-anchor="end" textLength="17.02" lengthAdjust="spacingAndGlyphs" >1.5</text>
<text x="374.60" y="580.74" font-size="12.3" fill="#111" text-anchor="end" textLength="17.02" lengthAdjust="spacingAndGlyphs" >1.0</text>
<text x="374.60" y="617.72" font-size="12.3" fill="#111" text-anchor="end" textLength="17.02" lengthAdjust="spacingAndGlyphs" >0.5</text>
<text x="374.60" y="654.70" font-size="12.3" fill="#111" text-anchor="end" textLength="17.02" lengthAdjust="spacingAndGlyphs" >0.0</text>
<path d="M432.5,479.4 L432.5,476.0 L511.6,476.0 L511.6,479.4" fill="none" stroke="#555" stroke-width="1.2"/>
<text x="471.40" y="474.80" font-size="10.5" fill="#111" text-anchor="middle" textLength="15.50" lengthAdjust="spacingAndGlyphs" >n.s.</text>
<path d="M401.0,502.0 L401.0,498.8 L479.8,498.8 L479.8,502.0" fill="none" stroke="#555" stroke-width="1.2"/>
<text x="440.40" y="497.70" font-size="10.5" fill="#111" text-anchor="middle" textLength="14.00" lengthAdjust="spacingAndGlyphs" >***</text>
<path d="M400.60,558.30 C400.77,559.60 401.18,563.98 401.60,566.10 C402.02,568.22 402.67,569.38 403.10,571.00 C403.53,572.62 403.22,574.00 404.20,575.80 C405.18,577.60 407.38,579.80 409.00,581.80 C410.62,583.80 412.65,585.78 413.90,587.80 C415.15,589.82 416.30,591.88 416.50,593.90 C416.70,595.92 416.05,597.90 415.10,599.90 C414.15,601.90 412.42,603.90 410.80,605.90 C409.18,607.90 406.80,610.10 405.40,611.90 C404.00,613.70 403.10,615.08 402.40,616.70 C401.70,618.32 401.50,619.88 401.20,621.60 C400.90,623.32 400.70,626.10 400.60,627.00 L400.60,627.00 C400.50,626.10 400.30,623.32 400.00,621.60 C399.70,619.88 399.50,618.32 398.80,616.70 C398.10,615.08 397.20,613.70 395.80,611.90 C394.40,610.10 392.02,607.90 390.40,605.90 C388.78,603.90 387.05,601.90 386.10,599.90 C385.15,597.90 384.50,595.92 384.70,593.90 C384.90,591.88 386.05,589.82 387.30,587.80 C388.55,585.78 390.58,583.80 392.20,581.80 C393.82,579.80 396.02,577.60 397.00,575.80 C397.98,574.00 397.67,572.62 398.10,571.00 C398.53,569.38 399.18,568.22 399.60,566.10 C400.02,563.98 400.43,559.60 400.60,558.30 Z" fill="#72d4bf" stroke="#505050" stroke-width="1.3" stroke-linejoin="round"/>
<line x1="400.60" y1="569.80" x2="400.60" y2="620.40" stroke="#505050" stroke-width="1.6" />
<rect x="398.20" y="586.90" width="4.80" height="17.80" fill="#505050" />
<rect x="398.40" y="594.55" width="4.40" height="1.50" fill="#f4f4f4" />
<path d="M432.20,538.20 C432.37,539.45 432.78,543.65 433.20,545.70 C433.62,547.75 434.27,548.70 434.70,550.50 C435.13,552.30 434.82,554.30 435.80,556.50 C436.78,558.70 439.08,561.28 440.60,563.70 C442.12,566.12 443.78,568.58 444.90,571.00 C446.02,573.42 446.78,575.80 447.30,578.20 C447.82,580.60 448.20,582.98 448.00,585.40 C447.80,587.82 447.13,590.28 446.10,592.70 C445.07,595.12 443.42,597.50 441.80,599.90 C440.18,602.30 437.80,604.90 436.40,607.10 C435.00,609.30 434.10,611.40 433.40,613.10 C432.70,614.80 432.40,616.60 432.20,617.30 L432.20,617.30 C432.00,616.60 431.70,614.80 431.00,613.10 C430.30,611.40 429.40,609.30 428.00,607.10 C426.60,604.90 424.22,602.30 422.60,599.90 C420.98,597.50 419.33,595.12 418.30,592.70 C417.27,590.28 416.60,587.82 416.40,585.40 C416.20,582.98 416.58,580.60 417.10,578.20 C417.62,575.80 418.38,573.42 419.50,571.00 C420.62,568.58 422.28,566.12 423.80,563.70 C425.32,561.28 427.62,558.70 428.60,556.50 C429.58,554.30 429.27,552.30 429.70,550.50 C430.13,548.70 430.78,547.75 431.20,545.70 C431.62,543.65 432.03,539.45 432.20,538.20 Z" fill="#7463c8" stroke="#505050" stroke-width="1.3" stroke-linejoin="round"/>
<line x1="432.20" y1="548.10" x2="432.20" y2="607.10" stroke="#505050" stroke-width="1.6" />
<rect x="429.80" y="570.00" width="4.80" height="23.90" fill="#505050" />
<rect x="430.00" y="581.25" width="4.40" height="1.50" fill="#f4f4f4" />
<path d="M479.60,556.60 C479.77,557.55 480.10,560.53 480.60,562.30 C481.10,564.07 481.37,565.38 482.60,567.20 C483.83,569.02 486.28,571.20 488.00,573.20 C489.72,575.20 491.63,577.00 492.90,579.20 C494.17,581.40 495.50,584.18 495.60,586.40 C495.70,588.62 494.67,590.48 493.50,592.50 C492.33,594.52 490.22,596.50 488.60,598.50 C486.98,600.50 485.10,602.50 483.80,604.50 C482.50,606.50 481.50,608.68 480.80,610.50 C480.10,612.32 479.80,614.58 479.60,615.40 L479.60,615.40 C479.40,614.58 479.10,612.32 478.40,610.50 C477.70,608.68 476.70,606.50 475.40,604.50 C474.10,602.50 472.22,600.50 470.60,598.50 C468.98,596.50 466.87,594.52 465.70,592.50 C464.53,590.48 463.50,588.62 463.60,586.40 C463.70,584.18 465.03,581.40 466.30,579.20 C467.57,577.00 469.48,575.20 471.20,573.20 C472.92,571.20 475.37,569.02 476.60,567.20 C477.83,565.38 478.10,564.07 478.60,562.30 C479.10,560.53 479.43,557.55 479.60,556.60 Z" fill="#72d4bf" stroke="#505050" stroke-width="1.3" stroke-linejoin="round"/>
<line x1="479.60" y1="563.60" x2="479.60" y2="609.30" stroke="#505050" stroke-width="1.6" />
<rect x="477.20" y="578.00" width="4.80" height="16.90" fill="#505050" />
<rect x="477.40" y="586.65" width="4.40" height="1.50" fill="#f4f4f4" />
<path d="M511.60,532.00 C511.85,533.85 512.52,539.85 513.10,543.10 C513.68,546.35 514.55,548.50 515.10,551.50 C515.65,554.50 515.78,558.28 516.40,561.10 C517.02,563.92 517.60,565.98 518.80,568.40 C520.00,570.82 522.35,573.40 523.60,575.60 C524.85,577.80 525.63,580.00 526.30,581.60 C526.97,583.20 527.63,583.58 527.60,585.20 C527.57,586.82 527.17,589.28 526.10,591.30 C525.03,593.32 522.92,595.30 521.20,597.30 C519.48,599.30 517.20,601.50 515.80,603.30 C514.40,605.10 513.50,606.60 512.80,608.10 C512.10,609.60 511.80,611.60 511.60,612.30 L511.60,612.30 C511.40,611.60 511.10,609.60 510.40,608.10 C509.70,606.60 508.80,605.10 507.40,603.30 C506.00,601.50 503.72,599.30 502.00,597.30 C500.28,595.30 498.17,593.32 497.10,591.30 C496.03,589.28 495.63,586.82 495.60,585.20 C495.57,583.58 496.23,583.20 496.90,581.60 C497.57,580.00 498.35,577.80 499.60,575.60 C500.85,573.40 503.20,570.82 504.40,568.40 C505.60,565.98 506.18,563.92 506.80,561.10 C507.42,558.28 507.55,554.50 508.10,551.50 C508.65,548.50 509.52,546.35 510.10,543.10 C510.68,539.85 511.35,533.85 511.60,532.00 Z" fill="#7463c8" stroke="#505050" stroke-width="1.3" stroke-linejoin="round"/>
<line x1="511.60" y1="550.90" x2="511.60" y2="602.10" stroke="#505050" stroke-width="1.6" />
<rect x="509.20" y="572.60" width="4.80" height="19.90" fill="#505050" />
<rect x="509.40" y="582.35" width="4.40" height="1.50" fill="#f4f4f4" />
<line x1="416.60" y1="650.40" x2="416.60" y2="652.50" stroke="#555" stroke-width="1" />
<line x1="495.60" y1="650.40" x2="495.60" y2="652.50" stroke="#555" stroke-width="1" />
<text x="396.00" y="662.30" font-size="12" fill="#111" textLength="41.89" lengthAdjust="spacingAndGlyphs" >with PE</text>
<text x="479.70" y="662.30" font-size="12" fill="#111" textLength="31.90" lengthAdjust="spacingAndGlyphs" >no PE</text>
<rect x="451.90" y="615.60" width="78.2" height="29.8" rx="2" fill="#fff" fill-opacity="0.8" stroke="#e0e0e0" stroke-width="0.8"/>
<rect x="454.70" y="619.30" width="19.80" height="7.50" fill="#72d4bf" stroke="#505050" stroke-width="1.1" />
<rect x="454.70" y="633.00" width="19.80" height="7.50" fill="#7463c8" stroke="#505050" stroke-width="1.1" />
<text x="481.20" y="627.00" font-size="10" fill="#111" textLength="30.18" lengthAdjust="spacingAndGlyphs" >sparse</text>
<text x="481.20" y="640.50" font-size="10" fill="#111" textLength="44.28" lengthAdjust="spacingAndGlyphs" >continous</text>
<text x="554.00" y="452.70" font-size="20" fill="#111" font-weight="bold" textLength="11.40" lengthAdjust="spacingAndGlyphs" stroke="#000" stroke-width="0.6">g</text>
<line x1="588.40" y1="465.00" x2="588.40" y2="554.60" stroke="#555" stroke-width="1.3" />
<line x1="588.40" y1="554.60" x2="680.00" y2="554.60" stroke="#555" stroke-width="1.3" />
<text x="585.60" y="474.00" font-size="12.3" fill="#111" text-anchor="end" textLength="17.02" lengthAdjust="spacingAndGlyphs" >1.5</text>
<text x="585.60" y="556.20" font-size="12.3" fill="#111" text-anchor="end" textLength="17.02" lengthAdjust="spacingAndGlyphs" >0.4</text>
<line x1="592.40" y1="550.70" x2="676.10" y2="468.40" stroke="#777" stroke-width="0.8" stroke-dasharray="3 2"/>
<text x="563.30" y="543.70" font-size="11.8" fill="#111" textLength="68.70" lengthAdjust="spacingAndGlyphs" transform="rotate(-90 563.30 543.70)" >MSE (no PE)</text>
<text x="607.20" y="548.80" font-size="11.2" fill="#111" textLength="61.40" lengthAdjust="spacingAndGlyphs" >sparse model</text>
<line x1="588.40" y1="560.40" x2="588.40" y2="650.40" stroke="#555" stroke-width="1.3" />
<line x1="588.40" y1="650.40" x2="680.00" y2="650.40" stroke="#555" stroke-width="1.3" />
<text x="585.60" y="568.30" font-size="12.3" fill="#111" text-anchor="end" textLength="17.02" lengthAdjust="spacingAndGlyphs" >1.5</text>
<text x="585.60" y="650.50" font-size="12.3" fill="#111" text-anchor="end" textLength="17.02" lengthAdjust="spacingAndGlyphs" >0.4</text>
<line x1="592.40" y1="645.00" x2="676.10" y2="562.70" stroke="#777" stroke-width="0.8" stroke-dasharray="3 2"/>
<text x="563.30" y="637.20" font-size="11.8" fill="#111" textLength="65.07" lengthAdjust="spacingAndGlyphs" transform="rotate(-90 563.30 637.20)" >MSE(no PE)</text>
<text x="600.30" y="643.50" font-size="11.2" fill="#111" textLength="75.40" lengthAdjust="spacingAndGlyphs" >continous model</text>
<circle cx="593.75" cy="535.44" r="1.35" fill="#5cc4b4" stroke="#143430" stroke-width="0.85"/>
<circle cx="600.26" cy="522.23" r="1.35" fill="#5cc4b4" stroke="#143430" stroke-width="0.85"/>
<circle cx="604.20" cy="522.23" r="1.35" fill="#5cc4b4" stroke="#143430" stroke-width="0.85"/>
<circle cx="600.26" cy="528.54" r="1.35" fill="#5cc4b4" stroke="#143430" stroke-width="0.85"/>
<circle cx="601.64" cy="530.12" r="1.35" fill="#5cc4b4" stroke="#143430" stroke-width="0.85"/>
<circle cx="603.21" cy="532.48" r="1.35" fill="#5cc4b4" stroke="#143430" stroke-width="0.85"/>
<circle cx="605.18" cy="533.47" r="1.35" fill="#5cc4b4" stroke="#143430" stroke-width="0.85"/>
<circle cx="603.61" cy="539.38" r="1.35" fill="#5cc4b4" stroke="#143430" stroke-width="0.85"/>
<circle cx="607.15" cy="520.66" r="1.35" fill="#5cc4b4" stroke="#143430" stroke-width="0.85"/>
<circle cx="608.14" cy="522.63" r="1.35" fill="#5cc4b4" stroke="#143430" stroke-width="0.85"/>
<circle cx="609.12" cy="524.60" r="1.35" fill="#5cc4b4" stroke="#143430" stroke-width="0.85"/>
<circle cx="610.11" cy="526.57" r="1.35" fill="#5cc4b4" stroke="#143430" stroke-width="0.85"/>
<circle cx="611.10" cy="528.54" r="1.35" fill="#5cc4b4" stroke="#143430" stroke-width="0.85"/>
<circle cx="613.07" cy="519.67" r="1.35" fill="#5cc4b4" stroke="#143430" stroke-width="0.85"/>
<circle cx="613.46" cy="503.91" r="1.35" fill="#5cc4b4" stroke="#143430" stroke-width="0.85"/>
<circle cx="615.04" cy="512.77" r="1.35" fill="#5cc4b4" stroke="#143430" stroke-width="0.85"/>
<circle cx="616.61" cy="501.94" r="1.35" fill="#5cc4b4" stroke="#143430" stroke-width="0.85"/>
<circle cx="617.99" cy="508.83" r="1.35" fill="#5cc4b4" stroke="#143430" stroke-width="0.85"/>
<circle cx="618.98" cy="514.75" r="1.35" fill="#5cc4b4" stroke="#143430" stroke-width="0.85"/>
<circle cx="619.96" cy="501.94" r="1.35" fill="#5cc4b4" stroke="#143430" stroke-width="0.85"/>
<circle cx="620.95" cy="506.86" r="1.35" fill="#5cc4b4" stroke="#143430" stroke-width="0.85"/>
<circle cx="617.99" cy="536.42" r="1.35" fill="#5cc4b4" stroke="#143430" stroke-width="0.85"/>
<circle cx="624.50" cy="525.19" r="1.35" fill="#5cc4b4" stroke="#143430" stroke-width="0.85"/>
<circle cx="626.86" cy="512.77" r="1.35" fill="#5cc4b4" stroke="#143430" stroke-width="0.85"/>
<circle cx="628.83" cy="510.80" r="1.35" fill="#5cc4b4" stroke="#143430" stroke-width="0.85"/>
<circle cx="629.82" cy="507.85" r="1.35" fill="#5cc4b4" stroke="#143430" stroke-width="0.85"/>
<circle cx="630.80" cy="503.91" r="1.35" fill="#5cc4b4" stroke="#143430" stroke-width="0.85"/>
<circle cx="632.77" cy="509.82" r="1.35" fill="#5cc4b4" stroke="#143430" stroke-width="0.85"/>
<circle cx="633.76" cy="516.72" r="1.35" fill="#5cc4b4" stroke="#143430" stroke-width="0.85"/>
<circle cx="634.75" cy="514.75" r="1.35" fill="#5cc4b4" stroke="#143430" stroke-width="0.85"/>
<circle cx="635.73" cy="505.88" r="1.35" fill="#5cc4b4" stroke="#143430" stroke-width="0.85"/>
<circle cx="638.29" cy="498.58" r="1.35" fill="#5cc4b4" stroke="#143430" stroke-width="0.85"/>
<circle cx="643.02" cy="497.01" r="1.35" fill="#5cc4b4" stroke="#143430" stroke-width="0.85"/>
<circle cx="647.56" cy="494.45" r="1.35" fill="#5cc4b4" stroke="#143430" stroke-width="0.85"/>
<circle cx="609.12" cy="531.50" r="1.35" fill="#5cc4b4" stroke="#143430" stroke-width="0.85"/>
<circle cx="612.08" cy="522.63" r="1.35" fill="#5cc4b4" stroke="#143430" stroke-width="0.85"/>
<circle cx="614.05" cy="520.66" r="1.35" fill="#5cc4b4" stroke="#143430" stroke-width="0.85"/>
<circle cx="616.02" cy="518.69" r="1.35" fill="#5cc4b4" stroke="#143430" stroke-width="0.85"/>
<circle cx="617.01" cy="516.72" r="1.35" fill="#5cc4b4" stroke="#143430" stroke-width="0.85"/>
<circle cx="618.98" cy="512.77" r="1.35" fill="#5cc4b4" stroke="#143430" stroke-width="0.85"/>
<circle cx="620.95" cy="510.80" r="1.35" fill="#5cc4b4" stroke="#143430" stroke-width="0.85"/>
<circle cx="622.92" cy="509.82" r="1.35" fill="#5cc4b4" stroke="#143430" stroke-width="0.85"/>
<circle cx="624.89" cy="508.83" r="1.35" fill="#5cc4b4" stroke="#143430" stroke-width="0.85"/>
<circle cx="626.86" cy="507.85" r="1.35" fill="#5cc4b4" stroke="#143430" stroke-width="0.85"/>
<circle cx="612.08" cy="524.60" r="1.35" fill="#5cc4b4" stroke="#143430" stroke-width="0.85"/>
<circle cx="610.11" cy="521.64" r="1.35" fill="#5cc4b4" stroke="#143430" stroke-width="0.85"/>
<circle cx="608.14" cy="519.67" r="1.35" fill="#5cc4b4" stroke="#143430" stroke-width="0.85"/>
<circle cx="611.10" cy="516.72" r="1.35" fill="#5cc4b4" stroke="#143430" stroke-width="0.85"/>
<circle cx="615.04" cy="522.63" r="1.35" fill="#5cc4b4" stroke="#143430" stroke-width="0.85"/>
<circle cx="617.01" cy="520.66" r="1.35" fill="#5cc4b4" stroke="#143430" stroke-width="0.85"/>
<circle cx="619.96" cy="517.70" r="1.35" fill="#5cc4b4" stroke="#143430" stroke-width="0.85"/>
<circle cx="621.94" cy="515.73" r="1.35" fill="#5cc4b4" stroke="#143430" stroke-width="0.85"/>
<circle cx="623.91" cy="513.76" r="1.35" fill="#5cc4b4" stroke="#143430" stroke-width="0.85"/>
<circle cx="625.88" cy="511.79" r="1.35" fill="#5cc4b4" stroke="#143430" stroke-width="0.85"/>
<circle cx="627.85" cy="509.82" r="1.35" fill="#5cc4b4" stroke="#143430" stroke-width="0.85"/>
<circle cx="620.95" cy="520.66" r="1.35" fill="#5cc4b4" stroke="#143430" stroke-width="0.85"/>
<circle cx="622.92" cy="518.69" r="1.35" fill="#5cc4b4" stroke="#143430" stroke-width="0.85"/>
<circle cx="624.89" cy="516.72" r="1.35" fill="#5cc4b4" stroke="#143430" stroke-width="0.85"/>
<circle cx="612.67" cy="623.83" r="1.35" fill="#5550a8" stroke="#111" stroke-width="0.85"/>
<circle cx="612.08" cy="630.73" r="1.35" fill="#5550a8" stroke="#111" stroke-width="0.85"/>
<circle cx="614.05" cy="629.75" r="1.35" fill="#5550a8" stroke="#111" stroke-width="0.85"/>
<circle cx="617.01" cy="628.76" r="1.35" fill="#5550a8" stroke="#111" stroke-width="0.85"/>
<circle cx="619.96" cy="631.32" r="1.35" fill="#5550a8" stroke="#111" stroke-width="0.85"/>
<circle cx="624.89" cy="630.14" r="1.35" fill="#5550a8" stroke="#111" stroke-width="0.85"/>
<circle cx="620.95" cy="624.82" r="1.35" fill="#5550a8" stroke="#111" stroke-width="0.85"/>
<circle cx="627.45" cy="624.42" r="1.35" fill="#5550a8" stroke="#111" stroke-width="0.85"/>
<circle cx="630.80" cy="623.83" r="1.35" fill="#5550a8" stroke="#111" stroke-width="0.85"/>
<circle cx="632.77" cy="622.26" r="1.35" fill="#5550a8" stroke="#111" stroke-width="0.85"/>
<circle cx="615.04" cy="613.98" r="1.35" fill="#5550a8" stroke="#111" stroke-width="0.85"/>
<circle cx="617.99" cy="609.05" r="1.35" fill="#5550a8" stroke="#111" stroke-width="0.85"/>
<circle cx="616.02" cy="606.10" r="1.35" fill="#5550a8" stroke="#111" stroke-width="0.85"/>
<circle cx="618.58" cy="598.61" r="1.35" fill="#5550a8" stroke="#111" stroke-width="0.85"/>
<circle cx="622.53" cy="591.31" r="1.35" fill="#5550a8" stroke="#111" stroke-width="0.85"/>
<circle cx="624.50" cy="594.27" r="1.35" fill="#5550a8" stroke="#111" stroke-width="0.85"/>
<circle cx="621.94" cy="613.98" r="1.35" fill="#5550a8" stroke="#111" stroke-width="0.85"/>
<circle cx="623.31" cy="614.96" r="1.35" fill="#5550a8" stroke="#111" stroke-width="0.85"/>
<circle cx="624.89" cy="612.99" r="1.35" fill="#5550a8" stroke="#111" stroke-width="0.85"/>
<circle cx="625.88" cy="615.95" r="1.35" fill="#5550a8" stroke="#111" stroke-width="0.85"/>
<circle cx="627.85" cy="611.02" r="1.35" fill="#5550a8" stroke="#111" stroke-width="0.85"/>
<circle cx="628.83" cy="607.08" r="1.35" fill="#5550a8" stroke="#111" stroke-width="0.85"/>
<circle cx="629.82" cy="602.15" r="1.35" fill="#5550a8" stroke="#111" stroke-width="0.85"/>
<circle cx="631.20" cy="599.20" r="1.35" fill="#5550a8" stroke="#111" stroke-width="0.85"/>
<circle cx="633.76" cy="598.21" r="1.35" fill="#5550a8" stroke="#111" stroke-width="0.85"/>
<circle cx="635.14" cy="596.64" r="1.35" fill="#5550a8" stroke="#111" stroke-width="0.85"/>
<circle cx="636.72" cy="595.26" r="1.35" fill="#5550a8" stroke="#111" stroke-width="0.85"/>
<circle cx="634.35" cy="585.40" r="1.35" fill="#5550a8" stroke="#111" stroke-width="0.85"/>
<circle cx="636.72" cy="587.37" r="1.35" fill="#5550a8" stroke="#111" stroke-width="0.85"/>
<circle cx="640.26" cy="592.30" r="1.35" fill="#5550a8" stroke="#111" stroke-width="0.85"/>
<circle cx="641.64" cy="593.29" r="1.35" fill="#5550a8" stroke="#111" stroke-width="0.85"/>
<circle cx="642.63" cy="598.21" r="1.35" fill="#5550a8" stroke="#111" stroke-width="0.85"/>
<circle cx="644.60" cy="601.17" r="1.35" fill="#5550a8" stroke="#111" stroke-width="0.85"/>
<circle cx="647.56" cy="596.64" r="1.35" fill="#5550a8" stroke="#111" stroke-width="0.85"/>
<circle cx="648.54" cy="587.37" r="1.35" fill="#5550a8" stroke="#111" stroke-width="0.85"/>
<circle cx="648.54" cy="580.87" r="1.35" fill="#5550a8" stroke="#111" stroke-width="0.85"/>
<circle cx="650.51" cy="595.26" r="1.35" fill="#5550a8" stroke="#111" stroke-width="0.85"/>
<circle cx="651.50" cy="600.18" r="1.35" fill="#5550a8" stroke="#111" stroke-width="0.85"/>
<circle cx="650.51" cy="607.67" r="1.35" fill="#5550a8" stroke="#111" stroke-width="0.85"/>
<circle cx="653.47" cy="592.30" r="1.35" fill="#5550a8" stroke="#111" stroke-width="0.85"/>
<circle cx="655.44" cy="577.52" r="1.35" fill="#5550a8" stroke="#111" stroke-width="0.85"/>
<circle cx="656.42" cy="587.37" r="1.35" fill="#5550a8" stroke="#111" stroke-width="0.85"/>
<circle cx="659.38" cy="594.66" r="1.35" fill="#5550a8" stroke="#111" stroke-width="0.85"/>
<circle cx="662.73" cy="594.66" r="1.35" fill="#5550a8" stroke="#111" stroke-width="0.85"/>
<circle cx="662.73" cy="586.39" r="1.35" fill="#5550a8" stroke="#111" stroke-width="0.85"/>
<circle cx="667.26" cy="574.56" r="1.35" fill="#5550a8" stroke="#111" stroke-width="0.85"/>
<circle cx="672.19" cy="588.36" r="1.35" fill="#5550a8" stroke="#111" stroke-width="0.85"/>
<circle cx="624.50" cy="618.91" r="1.35" fill="#5550a8" stroke="#111" stroke-width="0.85"/>
<circle cx="627.85" cy="619.89" r="1.35" fill="#5550a8" stroke="#111" stroke-width="0.85"/>
<circle cx="629.82" cy="617.92" r="1.35" fill="#5550a8" stroke="#111" stroke-width="0.85"/>
<circle cx="631.79" cy="614.96" r="1.35" fill="#5550a8" stroke="#111" stroke-width="0.85"/>
<circle cx="633.76" cy="612.01" r="1.35" fill="#5550a8" stroke="#111" stroke-width="0.85"/>
<circle cx="636.72" cy="608.07" r="1.35" fill="#5550a8" stroke="#111" stroke-width="0.85"/>
<circle cx="638.69" cy="604.12" r="1.35" fill="#5550a8" stroke="#111" stroke-width="0.85"/>
<circle cx="640.66" cy="619.89" r="1.35" fill="#5550a8" stroke="#111" stroke-width="0.85"/>
<circle cx="641.64" cy="620.88" r="1.35" fill="#5550a8" stroke="#111" stroke-width="0.85"/>
<circle cx="625.88" cy="606.10" r="1.35" fill="#5550a8" stroke="#111" stroke-width="0.85"/>
<circle cx="628.83" cy="610.04" r="1.35" fill="#5550a8" stroke="#111" stroke-width="0.85"/>
<circle cx="630.80" cy="608.07" r="1.35" fill="#5550a8" stroke="#111" stroke-width="0.85"/>
<circle cx="632.77" cy="605.11" r="1.35" fill="#5550a8" stroke="#111" stroke-width="0.85"/>
<circle cx="634.75" cy="602.15" r="1.35" fill="#5550a8" stroke="#111" stroke-width="0.85"/>
<circle cx="637.70" cy="601.17" r="1.35" fill="#5550a8" stroke="#111" stroke-width="0.85"/>
<circle cx="639.67" cy="598.21" r="1.35" fill="#5550a8" stroke="#111" stroke-width="0.85"/>
<circle cx="618.98" cy="614.96" r="1.35" fill="#5550a8" stroke="#111" stroke-width="0.85"/>
<circle cx="620.95" cy="616.94" r="1.35" fill="#5550a8" stroke="#111" stroke-width="0.85"/>
<circle cx="622.92" cy="617.92" r="1.35" fill="#5550a8" stroke="#111" stroke-width="0.85"/>
<circle cx="625.48" cy="609.05" r="1.35" fill="#5550a8" stroke="#111" stroke-width="0.85"/>
<circle cx="627.85" cy="603.14" r="1.35" fill="#5550a8" stroke="#111" stroke-width="0.85"/>
<text x="592.40" y="661.50" font-size="12.3" fill="#111" text-anchor="middle" textLength="17.00" lengthAdjust="spacingAndGlyphs" >0.4</text>
<text x="676.10" y="661.50" font-size="12.3" fill="#111" text-anchor="middle" textLength="17.00" lengthAdjust="spacingAndGlyphs" >1.5</text>
<text x="596.70" y="674.10" font-size="12" fill="#111" textLength="74.50" lengthAdjust="spacingAndGlyphs" >MSE(with PE)</text>
<text x="3.00" y="699.90" font-size="20" fill="#111" font-weight="bold" textLength="11.90" lengthAdjust="spacingAndGlyphs" stroke="#000" stroke-width="0.6">h</text>
<line x1="47.40" y1="712.80" x2="47.40" y2="802.80" stroke="#777" stroke-width="1.05" />
<line x1="47.40" y1="802.70" x2="334.00" y2="802.70" stroke="#aaa" stroke-width="1.6" />
<text x="44.70" y="717.70" font-size="12.3" fill="#111" text-anchor="end" textLength="6.81" lengthAdjust="spacingAndGlyphs" >3</text>
<text x="44.70" y="762.60" font-size="12.3" fill="#111" text-anchor="end" textLength="6.81" lengthAdjust="spacingAndGlyphs" >0</text>
<text x="44.70" y="807.40" font-size="12.3" fill="#111" text-anchor="end" textLength="15.77" lengthAdjust="spacingAndGlyphs" >−3</text>
<text x="60.40" y="814.60" font-size="12.3" fill="#111" text-anchor="middle" textLength="13.62" lengthAdjust="spacingAndGlyphs" >25</text>
<text x="125.90" y="814.60" font-size="12.3" fill="#111" text-anchor="middle" textLength="13.62" lengthAdjust="spacingAndGlyphs" >35</text>
<text x="191.40" y="814.60" font-size="12.3" fill="#111" text-anchor="middle" textLength="13.62" lengthAdjust="spacingAndGlyphs" >45</text>
<text x="256.90" y="814.60" font-size="12.3" fill="#111" text-anchor="middle" textLength="13.62" lengthAdjust="spacingAndGlyphs" >55</text>
<text x="322.40" y="814.60" font-size="12.3" fill="#111" text-anchor="middle" textLength="13.62" lengthAdjust="spacingAndGlyphs" >65</text>
<text x="164.00" y="825.80" font-size="12" fill="#111" textLength="53.30" lengthAdjust="spacingAndGlyphs" >time (TR)</text>
<text x="60.80" y="709.80" font-size="12" fill="#111" textLength="166.20" lengthAdjust="spacingAndGlyphs" >Subj. 10, story 2 (word level)</text>
<text x="24.00" y="804.10" font-size="12" fill="#111" textLength="92.60" lengthAdjust="spacingAndGlyphs" transform="rotate(-90 24.00 804.10)" >BOLD (z-scored)</text>
<circle cx="330.3" cy="716.3" r="1.3" fill="none" stroke="#ddd" stroke-width="0.8"/>
<path d="M60.56,750.22 C61.02,750.73 62.31,751.43 63.36,753.26 C64.41,755.09 65.69,761.12 66.86,761.20 C68.03,761.28 69.00,757.50 70.37,753.73 C71.73,749.95 73.75,741.85 75.04,738.54 C76.32,735.23 76.99,733.48 78.08,733.87 C79.17,734.26 80.33,736.99 81.58,740.88 C82.82,744.77 84.30,752.75 85.55,757.23 C86.80,761.71 87.89,767.55 89.05,767.74 C90.22,767.94 91.20,762.87 92.56,758.40 C93.92,753.92 95.79,745.16 97.23,740.88 C98.67,736.60 99.84,732.51 101.20,732.70 C102.56,732.90 103.93,737.57 105.41,742.05 C106.88,746.52 108.60,755.09 110.08,759.57 C111.56,764.04 113.04,769.49 114.28,768.91 C115.53,768.33 116.50,759.29 117.55,756.06 C118.60,752.83 119.50,749.52 120.59,749.52 C121.68,749.52 122.92,752.64 124.09,756.06 C125.26,759.49 126.51,769.10 127.60,770.08 C128.69,771.05 129.47,764.82 130.63,761.90 C131.80,758.98 133.36,753.14 134.60,752.56 C135.85,751.97 136.75,754.12 138.11,758.40 C139.47,762.68 141.42,773.19 142.78,778.25 C144.14,783.31 145.31,786.43 146.28,788.76 C147.26,791.10 147.65,792.66 148.62,792.27 C149.59,791.88 150.96,789.35 152.12,786.43 C153.29,783.51 154.54,778.06 155.63,774.75 C156.72,771.44 157.50,767.35 158.66,766.57 C159.83,765.79 161.19,770.86 162.63,770.08 C164.08,769.30 165.75,765.02 167.31,761.90 C168.86,758.79 170.69,752.17 171.98,751.39 C173.26,750.61 173.85,753.34 175.02,757.23 C176.18,761.12 177.74,769.69 178.99,774.75 C180.23,779.81 181.32,787.60 182.49,787.60 C183.66,787.60 184.83,781.56 185.99,774.75 C187.16,767.94 188.52,753.14 189.50,746.72 C190.47,740.29 191.06,737.37 191.83,736.21 C192.61,735.04 193.20,736.01 194.17,739.71 C195.14,743.41 196.53,754.50 197.67,758.40 C198.82,762.29 199.88,763.26 201.02,763.07 C202.17,762.87 203.36,757.62 204.53,757.23 C205.69,756.84 206.86,757.42 208.03,760.73 C209.20,764.04 210.44,773.39 211.53,777.08 C212.62,780.78 213.60,784.09 214.57,782.92 C215.54,781.76 216.21,775.53 217.37,770.08 C218.54,764.63 220.41,752.56 221.58,750.22 C222.75,747.89 223.33,752.36 224.38,756.06 C225.43,759.76 226.91,769.10 227.89,772.41 C228.86,775.72 229.25,777.47 230.22,775.92 C231.20,774.36 232.44,766.96 233.73,763.07 C235.01,759.18 236.76,753.53 237.93,752.56 C239.10,751.58 239.68,754.89 240.73,757.23 C241.78,759.57 243.07,765.02 244.24,766.57 C245.41,768.13 246.57,767.16 247.74,766.57 C248.91,765.99 250.08,763.07 251.25,763.07 C252.41,763.07 253.58,767.35 254.75,766.57 C255.92,765.79 257.08,763.07 258.25,758.40 C259.42,753.73 260.71,743.80 261.76,738.54 C262.81,733.29 263.59,727.45 264.56,726.86 C265.53,726.28 266.51,728.61 267.60,735.04 C268.69,741.46 270.05,757.62 271.10,765.41 C272.15,773.19 272.93,781.37 273.90,781.76 C274.88,782.15 275.77,773.97 276.94,767.74 C278.11,761.51 279.74,746.13 280.91,744.38 C282.08,742.63 282.86,752.17 283.95,757.23 C285.04,762.29 286.48,771.63 287.45,774.75 C288.42,777.86 288.81,777.67 289.79,775.92 C290.76,774.16 292.12,767.55 293.29,764.24 C294.46,760.93 295.63,755.09 296.80,756.06 C297.96,757.03 299.33,765.99 300.30,770.08 C301.27,774.16 301.86,776.89 302.63,780.59 C303.41,784.29 304.08,791.88 304.97,792.27 C305.87,792.66 307.03,787.60 308.01,782.92 C308.98,778.25 309.76,768.71 310.81,764.24 C311.86,759.76 312.95,758.20 314.31,756.06 C315.68,753.92 317.82,752.36 318.99,751.39 C320.15,750.42 320.93,750.42 321.32,750.22" fill="none" stroke="#c4c4c4" stroke-width="1.3" stroke-linejoin="round" stroke-linecap="round" />
<path d="M60.56,738.54 C61.02,737.96 62.31,735.43 63.36,735.04 C64.41,734.65 65.50,735.62 66.86,736.21 C68.23,736.79 70.17,738.27 71.53,738.54 C72.90,738.81 73.87,737.65 75.04,737.84 C76.21,738.04 76.99,738.62 78.54,739.71 C80.10,740.80 82.44,742.82 84.38,744.38 C86.33,745.94 88.28,747.69 90.22,749.05 C92.17,750.42 93.92,751.00 96.06,752.56 C98.20,754.12 100.73,756.65 103.07,758.40 C105.41,760.15 107.74,761.51 110.08,763.07 C112.41,764.63 114.94,766.38 117.08,767.74 C119.23,769.10 121.17,770.54 122.92,771.25 C124.68,771.95 126.04,772.53 127.60,771.95 C129.15,771.36 130.52,770.00 132.27,767.74 C134.02,765.48 136.16,761.71 138.11,758.40 C140.05,755.09 142.00,750.81 143.95,747.89 C145.89,744.97 148.04,742.63 149.79,740.88 C151.54,739.13 152.90,738.15 154.46,737.37 C156.02,736.60 157.57,736.21 159.13,736.21 C160.69,736.21 162.05,736.79 163.80,737.37 C165.55,737.96 167.89,738.54 169.64,739.71 C171.39,740.88 172.56,742.05 174.31,744.38 C176.07,746.72 178.21,750.22 180.15,753.73 C182.10,757.23 184.05,761.90 185.99,765.41 C187.94,768.91 190.50,772.61 191.83,774.75 C193.17,776.89 192.87,777.08 194.02,778.25 C195.16,779.42 197.13,780.78 198.69,781.76 C200.24,782.73 201.80,783.90 203.36,784.09 C204.92,784.29 206.47,783.70 208.03,782.92 C209.59,782.15 211.15,780.59 212.70,779.42 C214.26,778.25 215.82,776.70 217.37,775.92 C218.93,775.14 220.49,775.26 222.05,774.75 C223.60,774.24 225.16,773.66 226.72,772.88 C228.28,772.10 229.83,771.13 231.39,770.08 C232.95,769.03 234.50,767.94 236.06,766.57 C237.62,765.21 239.18,763.46 240.73,761.90 C242.29,760.34 243.85,758.79 245.41,757.23 C246.96,755.67 248.52,754.12 250.08,752.56 C251.63,751.00 253.19,749.25 254.75,747.89 C256.31,746.52 257.86,745.43 259.42,744.38 C260.98,743.33 262.54,742.24 264.09,741.58 C265.65,740.92 267.21,740.41 268.76,740.41 C270.32,740.41 271.88,740.92 273.44,741.58 C274.99,742.24 276.55,742.94 278.11,744.38 C279.67,745.82 281.22,748.08 282.78,750.22 C284.34,752.36 285.89,754.89 287.45,757.23 C289.01,759.57 290.57,762.10 292.12,764.24 C293.68,766.38 295.24,768.13 296.80,770.08 C298.35,772.02 299.91,774.05 301.47,775.92 C303.02,777.79 304.78,780.12 306.14,781.29 C307.50,782.46 308.47,783.24 309.64,782.92 C310.81,782.61 311.98,781.56 313.15,779.42 C314.31,777.28 315.68,773.97 316.65,770.08 C317.62,766.18 318.32,760.54 318.99,756.06 C319.65,751.58 320.35,745.36 320.62,743.21" fill="none" stroke="#58dccb" stroke-width="1.5" stroke-linejoin="round" stroke-linecap="round" />
<path d="M60.56,746.02 C61.02,745.43 62.31,743.29 63.36,742.51 C64.41,741.73 65.50,741.35 66.86,741.35 C68.23,741.35 69.98,741.81 71.53,742.51 C73.09,743.21 74.65,744.38 76.21,745.55 C77.76,746.72 79.13,748.24 80.88,749.52 C82.63,750.81 84.77,751.97 86.72,753.26 C88.66,754.54 90.61,756.14 92.56,757.23 C94.50,758.32 96.26,759.14 98.40,759.80 C100.54,760.46 103.07,760.85 105.41,761.20 C107.74,761.55 110.08,761.59 112.41,761.90 C114.75,762.21 117.08,762.56 119.42,763.07 C121.76,763.58 124.48,764.94 126.43,764.94 C128.37,764.94 129.54,764.35 131.10,763.07 C132.66,761.78 133.83,759.76 135.77,757.23 C137.72,754.70 140.64,750.81 142.78,747.89 C144.92,744.97 146.67,742.24 148.62,739.71 C150.57,737.18 152.51,734.18 154.46,732.70 C156.41,731.22 158.55,730.83 160.30,730.83 C162.05,730.83 163.22,731.42 164.97,732.70 C166.72,733.99 168.86,736.21 170.81,738.54 C172.76,740.88 174.70,743.80 176.65,746.72 C178.60,749.64 180.54,753.14 182.49,756.06 C184.44,758.98 186.41,762.10 188.33,764.24 C190.25,766.38 192.29,767.94 194.02,768.91 C195.74,769.88 197.13,770.08 198.69,770.08 C200.24,770.08 201.80,769.69 203.36,768.91 C204.92,768.13 206.47,766.57 208.03,765.41 C209.59,764.24 211.15,763.07 212.70,761.90 C214.26,760.73 215.82,759.29 217.37,758.40 C218.93,757.50 220.49,756.92 222.05,756.53 C223.60,756.14 225.16,756.22 226.72,756.06 C228.28,755.91 229.83,755.75 231.39,755.59 C232.95,755.44 234.50,755.36 236.06,755.13 C237.62,754.89 239.18,754.62 240.73,754.19 C242.29,753.76 243.85,753.34 245.41,752.56 C246.96,751.78 248.52,750.49 250.08,749.52 C251.63,748.55 253.19,747.57 254.75,746.72 C256.31,745.86 257.86,745.16 259.42,744.38 C260.98,743.60 262.54,742.63 264.09,742.05 C265.65,741.46 267.21,740.96 268.76,740.88 C270.32,740.80 271.88,741.07 273.44,741.58 C274.99,742.09 276.55,742.86 278.11,743.91 C279.67,744.97 281.22,746.45 282.78,747.89 C284.34,749.33 285.89,751.00 287.45,752.56 C289.01,754.12 290.57,755.67 292.12,757.23 C293.68,758.79 295.24,760.34 296.80,761.90 C298.35,763.46 299.91,765.33 301.47,766.57 C303.02,767.82 304.78,768.79 306.14,769.38 C307.50,769.96 308.47,770.15 309.64,770.08 C310.81,770.00 311.98,770.08 313.15,768.91 C314.31,767.74 315.48,765.99 316.65,763.07 C317.82,760.15 319.38,753.92 320.15,751.39 C320.93,748.86 321.13,748.47 321.32,747.89" fill="none" stroke="#6252d8" stroke-width="1.5" stroke-linejoin="round" stroke-linecap="round" />
<path d="M60.56,735.04 C61.02,734.92 62.31,734.42 63.36,734.34 C64.41,734.26 65.69,733.87 66.86,734.57 C68.03,735.27 69.00,736.52 70.37,738.54 C71.73,740.57 73.48,744.27 75.04,746.72 C76.60,749.17 78.15,751.78 79.71,753.26 C81.27,754.74 82.82,755.52 84.38,755.59 C85.94,755.67 87.50,754.82 89.05,753.73 C90.61,752.64 92.25,750.14 93.73,749.05 C95.21,747.96 96.57,747.11 97.93,747.19 C99.29,747.26 100.46,748.04 101.90,749.52 C103.34,751.00 105.02,753.41 106.57,756.06 C108.13,758.71 109.80,762.68 111.25,765.41 C112.69,768.13 113.85,770.86 115.22,772.41 C116.58,773.97 118.02,774.94 119.42,774.75 C120.82,774.55 122.26,772.80 123.63,771.25 C124.99,769.69 126.16,767.74 127.60,765.41 C129.04,763.07 130.71,759.57 132.27,757.23 C133.83,754.89 135.58,752.56 136.94,751.39 C138.30,750.22 139.08,750.14 140.44,750.22 C141.81,750.30 143.56,751.35 145.12,751.86 C146.67,752.36 148.23,753.10 149.79,753.26 C151.34,753.41 152.90,753.41 154.46,752.79 C156.02,752.17 157.57,751.12 159.13,749.52 C160.69,747.92 162.25,745.04 163.80,743.21 C165.36,741.38 167.11,739.32 168.47,738.54 C169.84,737.76 170.62,737.76 171.98,738.54 C173.34,739.32 175.09,740.68 176.65,743.21 C178.21,745.74 179.76,749.64 181.32,753.73 C182.88,757.81 184.44,763.85 185.99,767.74 C187.55,771.63 189.33,774.55 190.67,777.08 C192.00,779.62 192.68,781.37 194.02,782.92 C195.35,784.48 197.13,785.38 198.69,786.43 C200.24,787.48 201.80,788.26 203.36,789.23 C204.92,790.20 206.47,791.37 208.03,792.27 C209.59,793.16 211.15,794.33 212.70,794.60 C214.26,794.88 215.82,794.68 217.37,793.90 C218.93,793.12 220.49,791.96 222.05,789.93 C223.60,787.91 225.16,784.68 226.72,781.76 C228.28,778.84 229.83,775.14 231.39,772.41 C232.95,769.69 234.50,767.27 236.06,765.41 C237.62,763.54 239.18,761.98 240.73,761.20 C242.29,760.42 243.85,760.62 245.41,760.73 C246.96,760.85 248.52,761.59 250.08,761.90 C251.63,762.21 253.19,762.99 254.75,762.60 C256.31,762.21 257.86,761.04 259.42,759.57 C260.98,758.09 262.54,755.67 264.09,753.73 C265.65,751.78 267.21,749.52 268.76,747.89 C270.32,746.25 271.88,744.69 273.44,743.91 C274.99,743.14 276.55,742.94 278.11,743.21 C279.67,743.49 281.22,744.38 282.78,745.55 C284.34,746.72 285.89,748.66 287.45,750.22 C289.01,751.78 290.57,753.92 292.12,754.89 C293.68,755.87 295.24,756.18 296.80,756.06 C298.35,755.94 299.91,755.17 301.47,754.19 C303.02,753.22 304.58,752.05 306.14,750.22 C307.70,748.39 309.25,745.55 310.81,743.21 C312.37,740.88 314.12,737.65 315.48,736.21 C316.84,734.77 318.01,734.77 318.99,734.57 C319.96,734.38 320.93,734.96 321.32,735.04" fill="none" stroke="#1a1a1a" stroke-width="1.6" stroke-linejoin="round" stroke-linecap="round" />
<text x="358.00" y="699.90" font-size="20" fill="#111" font-weight="bold" textLength="5.50" lengthAdjust="spacingAndGlyphs" stroke="#000" stroke-width="0.6">i</text>
<line x1="380.20" y1="712.80" x2="380.20" y2="802.80" stroke="#777" stroke-width="1.05" />
<line x1="380.20" y1="802.70" x2="666.40" y2="802.70" stroke="#aaa" stroke-width="1.6" />
<text x="377.20" y="726.40" font-size="12.3" fill="#111" text-anchor="end" textLength="6.81" lengthAdjust="spacingAndGlyphs" >3</text>
<text x="377.20" y="766.60" font-size="12.3" fill="#111" text-anchor="end" textLength="6.81" lengthAdjust="spacingAndGlyphs" >0</text>
<text x="377.20" y="807.40" font-size="12.3" fill="#111" text-anchor="end" textLength="15.77" lengthAdjust="spacingAndGlyphs" >−3</text>
<text x="392.80" y="814.70" font-size="12.3" fill="#111" text-anchor="middle" textLength="13.62" lengthAdjust="spacingAndGlyphs" >20</text>
<text x="458.30" y="814.70" font-size="12.3" fill="#111" text-anchor="middle" textLength="13.62" lengthAdjust="spacingAndGlyphs" >30</text>
<text x="523.80" y="814.70" font-size="12.3" fill="#111" text-anchor="middle" textLength="13.62" lengthAdjust="spacingAndGlyphs" >40</text>
<text x="589.30" y="814.70" font-size="12.3" fill="#111" text-anchor="middle" textLength="13.62" lengthAdjust="spacingAndGlyphs" >50</text>
<text x="654.80" y="814.70" font-size="12.3" fill="#111" text-anchor="middle" textLength="13.62" lengthAdjust="spacingAndGlyphs" >60</text>
<text x="496.30" y="826.30" font-size="12" fill="#111" textLength="52.00" lengthAdjust="spacingAndGlyphs" >time (TR)</text>
<text x="393.30" y="709.80" font-size="12" fill="#111" textLength="189.80" lengthAdjust="spacingAndGlyphs" >Subj. 04, story 2 (sentence level)</text>
<path d="M392.70,755.54 C393.32,756.27 395.07,758.32 396.42,759.92 C397.77,761.53 399.52,765.65 400.80,765.18 C402.08,764.70 402.99,760.43 404.09,757.08 C405.18,753.72 406.28,747.84 407.37,745.03 C408.47,742.22 409.56,740.22 410.65,740.22 C411.75,740.22 412.84,741.86 413.94,745.03 C415.03,748.21 416.13,755.33 417.22,759.27 C418.32,763.21 419.41,767.22 420.51,768.68 C421.60,770.14 422.70,769.78 423.79,768.02 C424.89,766.27 425.98,762.00 427.08,758.17 C428.17,754.34 429.27,748.14 430.36,745.03 C431.46,741.93 432.48,739.56 433.65,739.56 C434.81,739.56 436.16,741.93 437.37,745.03 C438.57,748.14 439.74,754.34 440.87,758.17 C442.00,762.00 442.99,767.11 444.16,768.02 C445.32,768.94 446.71,765.65 447.88,763.65 C449.05,761.64 450.07,757.44 451.16,755.98 C452.26,754.52 453.35,754.16 454.45,754.89 C455.54,755.62 456.64,757.99 457.73,760.36 C458.83,762.73 459.92,766.93 461.02,769.12 C462.11,771.31 463.21,774.05 464.30,773.50 C465.40,772.95 466.67,768.57 467.58,765.84 C468.50,763.10 468.97,757.62 469.77,757.08 C470.58,756.53 471.31,758.72 472.40,762.55 C473.50,766.38 475.14,775.32 476.34,780.07 C477.55,784.81 478.72,788.90 479.63,791.02 C480.54,793.13 480.91,794.23 481.82,792.77 C482.73,791.31 484.01,785.65 485.10,782.26 C486.20,778.86 487.29,774.59 488.39,772.40 C489.48,770.21 490.58,769.48 491.67,769.12 C492.77,768.75 493.68,769.67 494.96,770.21 C496.23,770.76 498.06,773.32 499.33,772.40 C500.61,771.49 501.52,767.48 502.62,764.74 C503.71,762.00 504.81,755.80 505.90,755.98 C507.00,756.16 508.09,761.46 509.19,765.84 C510.28,770.21 511.45,778.61 512.47,782.26 C513.49,785.91 514.41,788.83 515.32,787.73 C516.23,786.64 516.96,780.98 517.95,775.69 C518.93,770.40 520.14,761.46 521.23,755.98 C522.33,750.51 523.42,744.30 524.51,742.84 C525.61,741.38 526.65,743.57 527.80,747.22 C528.95,750.87 530.27,762.19 531.42,764.74 C532.57,767.30 533.72,762.92 534.71,762.55 C535.69,762.19 536.42,760.73 537.33,762.55 C538.25,764.38 539.16,770.21 540.18,773.50 C541.20,776.78 542.37,781.89 543.47,782.26 C544.56,782.62 545.65,778.97 546.75,775.69 C547.84,772.40 549.05,765.84 550.03,762.55 C551.02,759.27 551.75,755.98 552.66,755.98 C553.57,755.98 554.49,759.63 555.51,762.55 C556.53,765.47 557.70,770.94 558.79,773.50 C559.89,776.05 560.98,778.61 562.08,777.88 C563.17,777.15 564.16,772.59 565.36,769.12 C566.57,765.65 568.13,758.17 569.30,757.08 C570.47,755.98 571.27,760.54 572.37,762.55 C573.46,764.56 574.67,768.02 575.87,769.12 C577.08,770.21 578.24,769.30 579.59,769.12 C580.94,768.94 582.70,767.84 583.97,768.02 C585.25,768.21 586.16,771.13 587.26,770.21 C588.35,769.30 589.45,767.11 590.54,762.55 C591.64,757.99 592.80,747.66 593.83,742.84 C594.85,738.03 595.76,733.65 596.67,733.65 C597.59,733.65 598.32,737.66 599.30,742.84 C600.29,748.03 601.49,757.81 602.58,764.74 C603.68,771.67 604.77,783.53 605.87,784.45 C606.96,785.36 608.06,775.51 609.15,770.21 C610.25,764.92 611.53,756.16 612.44,752.70 C613.35,749.23 613.72,747.41 614.63,749.41 C615.54,751.42 616.82,760.18 617.91,764.74 C619.01,769.30 620.10,775.32 621.20,776.78 C622.29,778.24 623.39,776.24 624.48,773.50 C625.58,770.76 626.67,761.09 627.77,760.36 C628.86,759.63 629.96,764.92 631.05,769.12 C632.14,773.32 633.31,781.35 634.33,785.54 C635.36,789.74 636.27,793.94 637.18,794.30 C638.09,794.67 638.82,791.56 639.81,787.73 C640.79,783.90 642.00,775.87 643.09,771.31 C644.19,766.75 645.28,762.92 646.38,760.36 C647.47,757.81 648.49,756.89 649.66,755.98 C650.83,755.07 652.76,755.07 653.38,754.89" fill="none" stroke="#c4c4c4" stroke-width="1.3" stroke-linejoin="round" stroke-linecap="round" />
<path d="M392.70,775.25 C393.14,774.59 394.34,772.88 395.33,771.31 C396.31,769.74 397.33,767.30 398.61,765.84 C399.89,764.38 401.35,763.83 402.99,762.55 C404.63,761.27 406.64,759.81 408.47,758.17 C410.29,756.53 412.11,754.34 413.94,752.70 C415.76,751.06 417.77,749.78 419.41,748.32 C421.06,746.86 422.33,745.40 423.79,743.94 C425.25,742.48 426.71,740.65 428.17,739.56 C429.63,738.47 430.91,737.84 432.55,737.37 C434.19,736.90 436.38,736.60 438.02,736.71 C439.67,736.82 440.76,737.19 442.40,738.03 C444.05,738.87 446.05,740.40 447.88,741.75 C449.70,743.10 451.71,744.49 453.35,746.13 C454.99,747.77 456.27,749.78 457.73,751.60 C459.19,753.43 460.65,755.25 462.11,757.08 C463.57,758.90 464.85,760.84 466.49,762.55 C468.13,764.27 470.14,765.91 471.96,767.37 C473.79,768.83 475.61,770.11 477.44,771.31 C479.26,772.51 481.09,773.75 482.91,774.59 C484.74,775.43 486.56,775.87 488.39,776.35 C490.21,776.82 492.04,777.44 493.86,777.44 C495.68,777.44 497.51,777.18 499.33,776.35 C501.16,775.51 502.98,774.16 504.81,772.40 C506.63,770.65 508.46,768.02 510.28,765.84 C512.11,763.65 513.93,761.46 515.76,759.27 C517.58,757.08 519.59,754.34 521.23,752.70 C522.87,751.06 524.15,750.03 525.61,749.41 C527.07,748.79 528.66,748.61 529.99,748.98 C531.32,749.34 532.10,750.44 533.61,751.60 C535.13,752.77 537.26,754.34 539.09,755.98 C540.91,757.62 542.74,759.81 544.56,761.46 C546.38,763.10 548.21,764.49 550.03,765.84 C551.86,767.19 553.68,768.46 555.51,769.56 C557.33,770.65 559.16,771.93 560.98,772.40 C562.81,772.88 564.63,772.66 566.46,772.40 C568.28,772.15 569.92,771.24 571.93,770.87 C573.94,770.51 576.31,770.21 578.50,770.21 C580.69,770.21 583.06,770.62 585.07,770.87 C587.08,771.13 588.72,771.67 590.54,771.75 C592.37,771.82 594.19,771.75 596.02,771.31 C597.84,770.87 599.67,770.03 601.49,769.12 C603.31,768.21 605.14,766.93 606.96,765.84 C608.79,764.74 610.61,763.65 612.44,762.55 C614.26,761.46 616.09,760.43 617.91,759.27 C619.74,758.10 621.56,756.75 623.39,755.54 C625.21,754.34 627.22,752.88 628.86,752.04 C630.50,751.20 631.78,750.40 633.24,750.51 C634.70,750.62 636.16,752.33 637.62,752.70 C639.08,753.06 640.54,752.33 642.00,752.70 C643.46,753.06 645.10,753.25 646.38,754.89 C647.65,756.53 648.64,759.45 649.66,762.55 C650.68,765.65 652.03,771.67 652.51,773.50" fill="none" stroke="#58dccb" stroke-width="1.5" stroke-linejoin="round" stroke-linecap="round" />
<path d="M392.70,769.12 C393.32,769.56 395.07,770.83 396.42,771.75 C397.77,772.66 399.34,773.57 400.80,774.59 C402.26,775.62 403.72,777.04 405.18,777.88 C406.64,778.72 408.10,779.45 409.56,779.63 C411.02,779.81 412.30,779.63 413.94,778.97 C415.58,778.32 417.59,776.97 419.41,775.69 C421.24,774.41 423.06,772.95 424.89,771.31 C426.71,769.67 428.54,767.59 430.36,765.84 C432.19,764.08 434.01,762.37 435.84,760.80 C437.66,759.23 439.48,757.51 441.31,756.42 C443.13,755.33 444.96,754.56 446.78,754.23 C448.61,753.90 450.43,754.16 452.26,754.45 C454.08,754.74 455.91,755.29 457.73,755.98 C459.56,756.68 461.38,757.59 463.21,758.61 C465.03,759.63 466.85,761.02 468.68,762.11 C470.50,763.21 472.33,764.19 474.15,765.18 C475.98,766.16 477.80,767.19 479.63,768.02 C481.45,768.86 483.28,769.59 485.10,770.21 C486.93,770.83 488.75,771.20 490.58,771.75 C492.40,772.29 494.23,772.95 496.05,773.50 C497.87,774.05 499.70,774.59 501.52,775.03 C503.35,775.47 505.36,775.91 507.00,776.13 C508.64,776.35 509.92,776.49 511.38,776.35 C512.84,776.20 514.11,776.09 515.76,775.25 C517.40,774.41 519.59,772.70 521.23,771.31 C522.87,769.92 524.15,768.46 525.61,766.93 C527.07,765.40 528.29,764.49 529.99,762.11 C531.69,759.74 533.92,754.63 535.80,752.70 C537.68,750.76 539.45,750.69 541.28,750.51 C543.10,750.33 544.92,750.87 546.75,751.60 C548.57,752.33 550.40,753.50 552.22,754.89 C554.05,756.27 555.87,758.10 557.70,759.92 C559.52,761.75 561.35,763.76 563.17,765.84 C565.00,767.92 566.82,770.40 568.65,772.40 C570.47,774.41 572.30,776.53 574.12,777.88 C575.94,779.23 577.77,780.51 579.59,780.51 C581.42,780.51 583.24,779.34 585.07,777.88 C586.89,776.42 588.72,773.75 590.54,771.75 C592.37,769.74 594.19,767.73 596.02,765.84 C597.84,763.94 599.67,761.82 601.49,760.36 C603.31,758.90 605.14,757.51 606.96,757.08 C608.79,756.64 610.61,757.11 612.44,757.73 C614.26,758.35 616.09,759.63 617.91,760.80 C619.74,761.97 621.56,763.54 623.39,764.74 C625.21,765.94 627.04,767.22 628.86,768.02 C630.68,768.83 632.51,769.19 634.33,769.56 C636.16,769.92 637.98,770.29 639.81,770.21 C641.63,770.14 643.64,769.48 645.28,769.12 C646.92,768.75 648.46,768.02 649.66,768.02 C650.87,768.02 652.03,768.94 652.51,769.12" fill="none" stroke="#6252d8" stroke-width="1.5" stroke-linejoin="round" stroke-linecap="round" />
<path d="M392.70,775.25 C392.96,775.98 393.61,778.46 394.23,779.63 C394.85,780.80 395.33,781.64 396.42,782.26 C397.52,782.88 399.34,783.17 400.80,783.35 C402.26,783.53 404.09,783.72 405.18,783.35 C406.28,782.99 406.46,782.62 407.37,781.16 C408.28,779.70 409.38,777.15 410.65,774.59 C411.93,772.04 413.57,768.94 415.03,765.84 C416.49,762.73 417.95,758.90 419.41,755.98 C420.87,753.06 422.33,750.51 423.79,748.32 C425.25,746.13 426.71,744.19 428.17,742.84 C429.63,741.49 431.09,740.87 432.55,740.22 C434.01,739.56 435.47,739.27 436.93,738.90 C438.39,738.54 439.85,738.17 441.31,738.03 C442.77,737.88 444.23,737.88 445.69,738.03 C447.15,738.17 448.61,738.47 450.07,738.90 C451.53,739.34 453.17,739.63 454.45,740.65 C455.72,741.68 456.64,743.03 457.73,745.03 C458.83,747.04 459.92,750.14 461.02,752.70 C462.11,755.25 463.21,757.92 464.30,760.36 C465.40,762.81 466.31,765.36 467.58,767.37 C468.86,769.38 470.69,771.31 471.96,772.40 C473.24,773.50 474.15,773.94 475.25,773.94 C476.34,773.94 477.44,773.57 478.53,772.40 C479.63,771.24 480.72,768.94 481.82,766.93 C482.91,764.92 484.01,762.26 485.10,760.36 C486.20,758.46 487.29,756.57 488.39,755.54 C489.48,754.52 490.58,754.08 491.67,754.23 C492.77,754.38 493.86,755.03 494.96,756.42 C496.05,757.81 497.14,760.25 498.24,762.55 C499.33,764.85 500.43,767.66 501.52,770.21 C502.62,772.77 503.71,775.69 504.81,777.88 C505.90,780.07 507.00,782.44 508.09,783.35 C509.19,784.26 510.28,784.26 511.38,783.35 C512.47,782.44 513.57,780.98 514.66,777.88 C515.76,774.78 516.85,769.67 517.95,764.74 C519.04,759.81 520.14,753.79 521.23,748.32 C522.33,742.84 523.42,736.46 524.51,731.90 C525.61,727.33 526.89,723.32 527.80,720.95 C528.71,718.58 528.84,717.66 529.99,717.66 C531.14,717.66 533.37,718.21 534.71,720.95 C536.04,723.69 536.90,728.61 537.99,734.09 C539.09,739.56 540.18,747.22 541.28,753.79 C542.37,760.36 543.47,768.02 544.56,773.50 C545.65,778.97 546.75,783.17 547.84,786.64 C548.94,790.10 550.03,792.73 551.13,794.30 C552.22,795.87 553.32,796.42 554.41,796.05 C555.51,795.69 556.60,794.41 557.70,792.11 C558.79,789.81 559.70,786.27 560.98,782.26 C562.26,778.24 563.90,772.22 565.36,768.02 C566.82,763.83 568.46,759.63 569.74,757.08 C571.02,754.52 571.93,753.25 573.02,752.70 C574.12,752.15 575.03,752.52 576.31,753.79 C577.59,755.07 579.23,757.99 580.69,760.36 C582.15,762.73 583.61,766.02 585.07,768.02 C586.53,770.03 587.99,771.93 589.45,772.40 C590.91,772.88 592.37,772.15 593.83,770.87 C595.29,769.59 596.75,767.04 598.21,764.74 C599.67,762.44 601.13,759.08 602.58,757.08 C604.04,755.07 605.50,753.25 606.96,752.70 C608.42,752.15 609.88,752.88 611.34,753.79 C612.80,754.70 614.26,756.35 615.72,758.17 C617.18,760.00 618.64,762.73 620.10,764.74 C621.56,766.75 623.20,769.05 624.48,770.21 C625.76,771.38 626.67,771.93 627.77,771.75 C628.86,771.56 629.77,770.65 631.05,769.12 C632.33,767.59 633.97,765.11 635.43,762.55 C636.89,760.00 638.35,755.91 639.81,753.79 C641.27,751.68 642.91,750.03 644.19,749.85 C645.46,749.67 646.38,750.58 647.47,752.70 C648.57,754.81 649.84,759.81 650.76,762.55 C651.67,765.29 652.58,768.02 652.95,769.12" fill="none" stroke="#1a1a1a" stroke-width="1.6" stroke-linejoin="round" stroke-linecap="round" />
<rect x="599.6" y="681.8" width="77.8" height="56.4" rx="2" fill="#fff" fill-opacity="0.85" stroke="#e0e0e0" stroke-width="0.8"/>
<line x1="602.90" y1="689.00" x2="622.30" y2="689.00" stroke="#333" stroke-width="2.0" />
<text x="629.50" y="692.60" font-size="10" fill="#111" textLength="34.01" lengthAdjust="spacingAndGlyphs" >original</text>
<line x1="602.90" y1="702.60" x2="622.30" y2="702.60" stroke="#5b4de0" stroke-width="1.6" />
<text x="629.50" y="706.20" font-size="10" fill="#111" textLength="44.28" lengthAdjust="spacingAndGlyphs" >continous</text>
<line x1="602.90" y1="716.20" x2="622.30" y2="716.20" stroke="#62e2d2" stroke-width="2.0" />
<text x="629.50" y="719.80" font-size="10" fill="#111" textLength="30.18" lengthAdjust="spacingAndGlyphs" >sparse</text>
<line x1="602.90" y1="729.60" x2="622.30" y2="729.60" stroke="#bbb" stroke-width="1.5" />
<text x="629.50" y="733.20" font-size="10" fill="#111" textLength="35.29" lengthAdjust="spacingAndGlyphs" >random</text>
</svg></body></html>
